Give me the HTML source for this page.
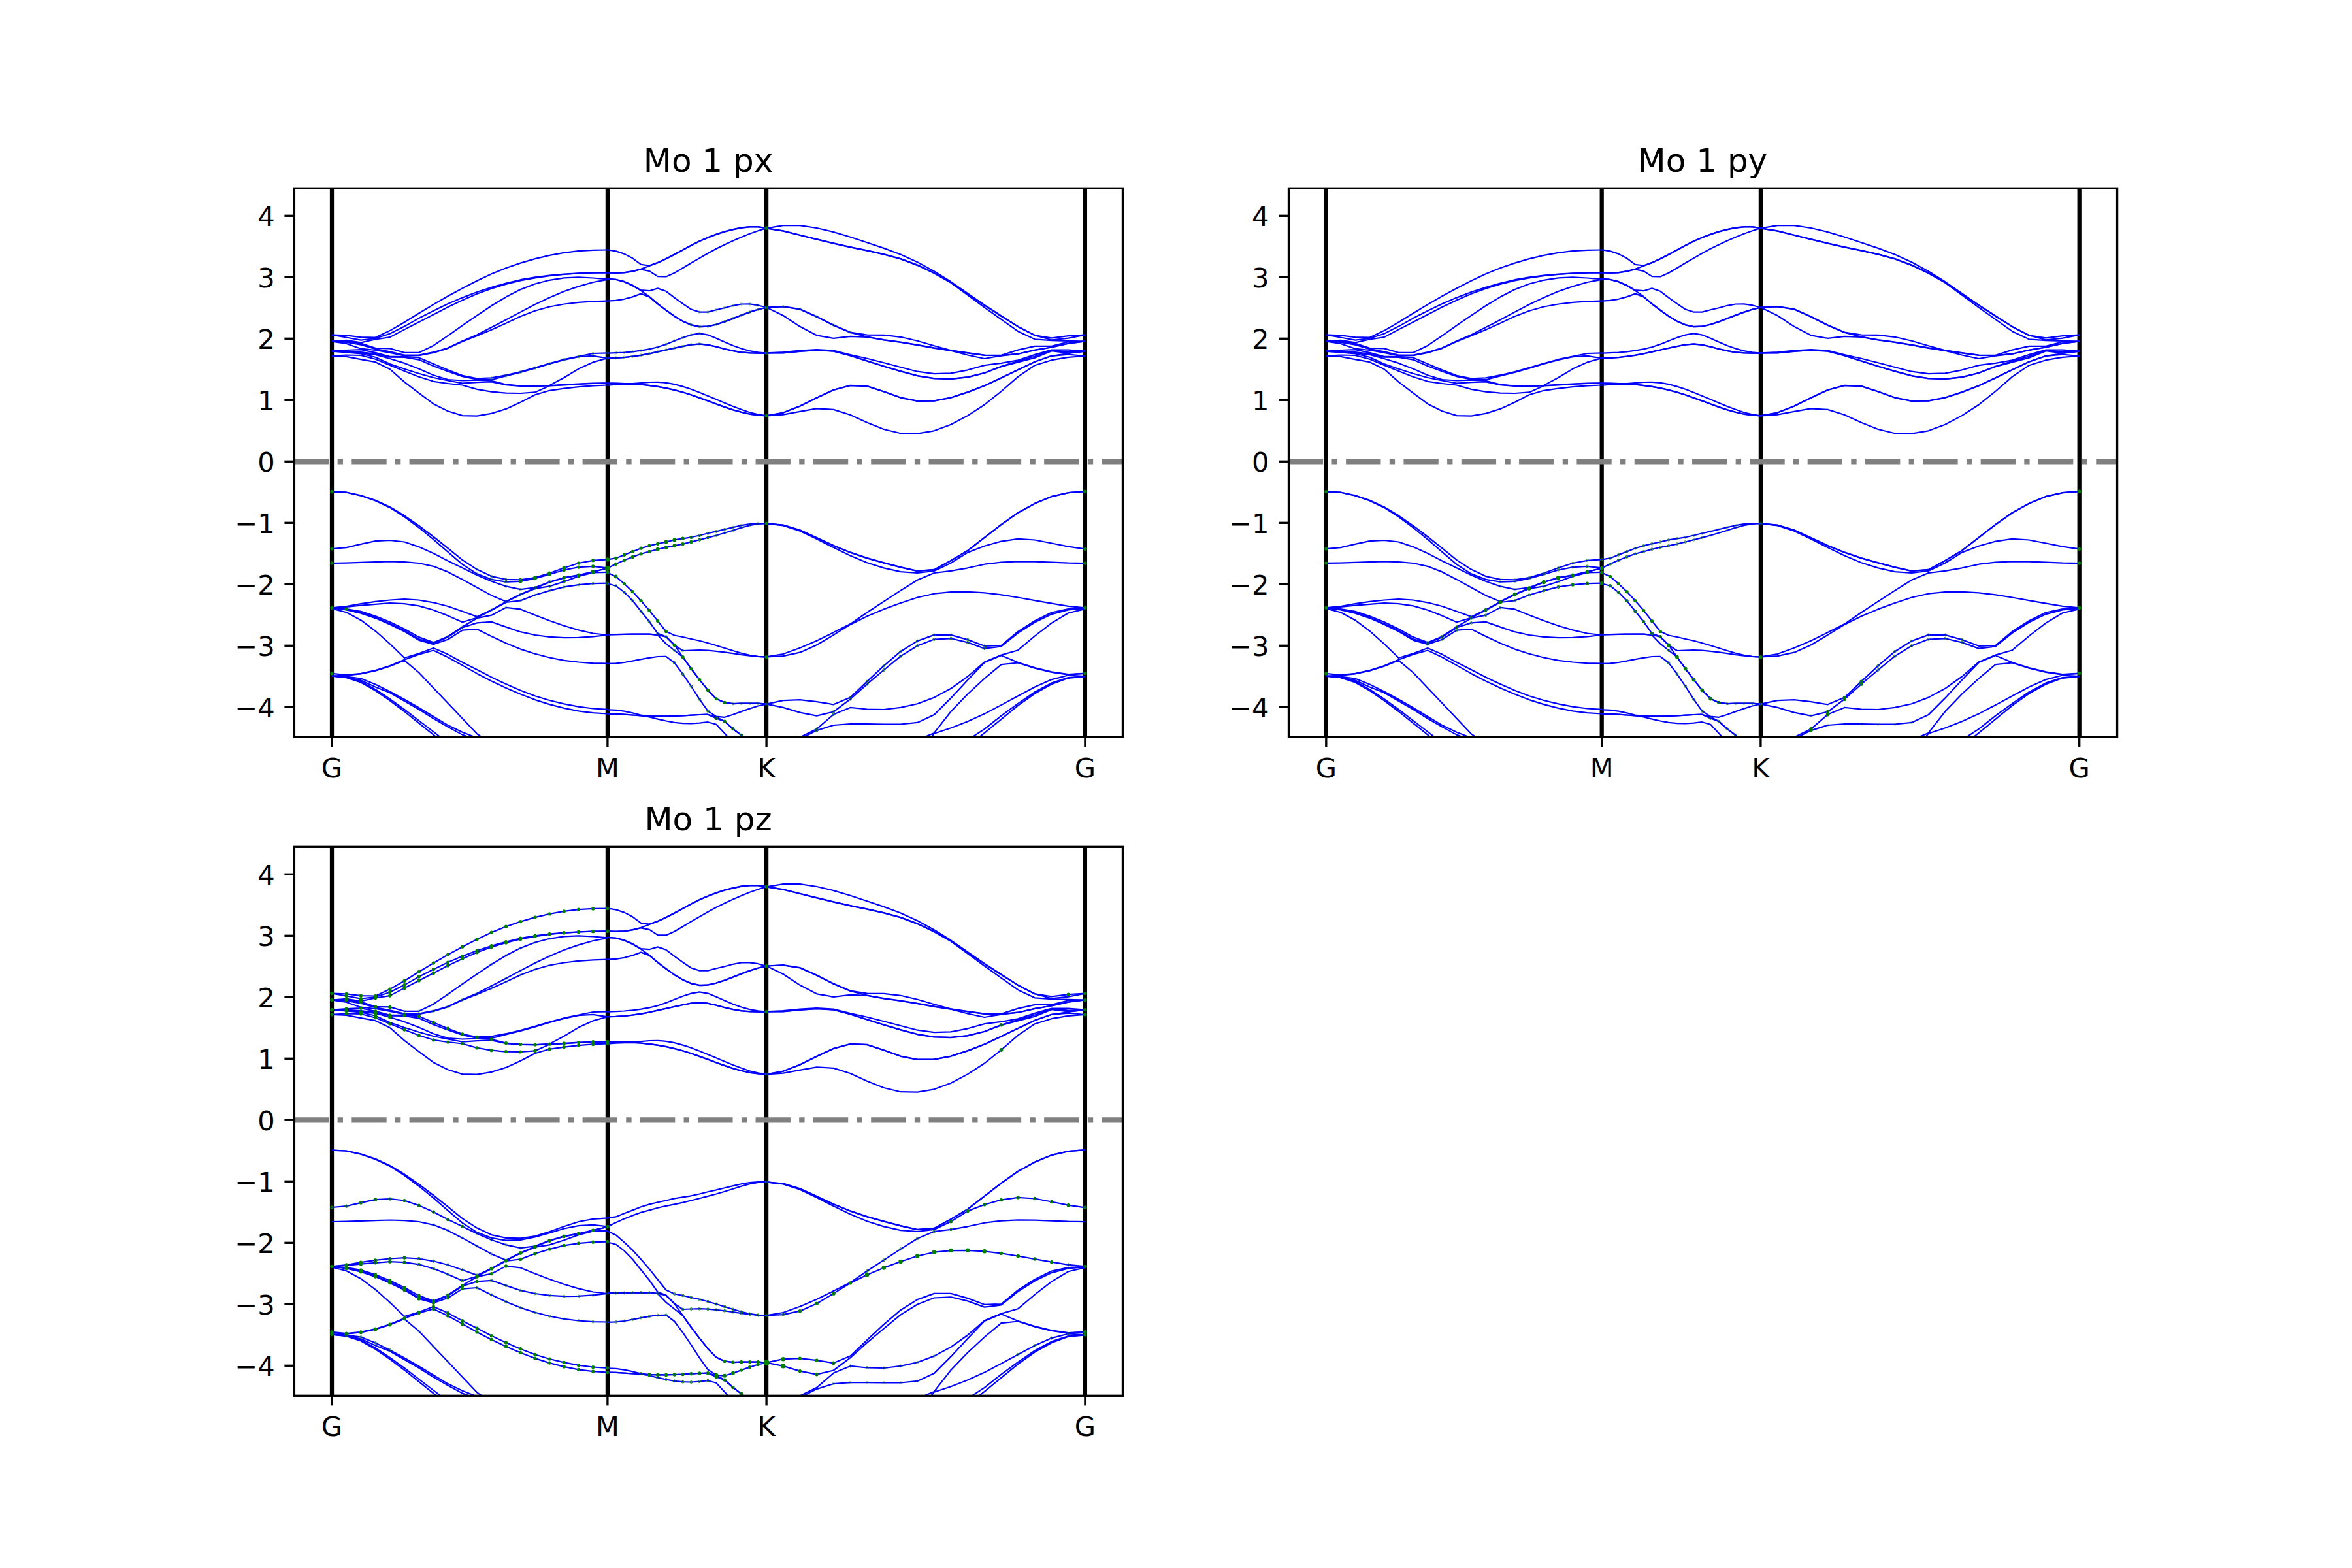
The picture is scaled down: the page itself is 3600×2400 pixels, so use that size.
<!DOCTYPE html>
<html><head><meta charset="utf-8"><title>bands</title>
<style>
html,body{margin:0;padding:0;background:#fff;}
svg{display:block;}
text{font-family:"DejaVu Sans","Liberation Sans",sans-serif;fill:#000;}
.tk{font-size:41.67px;}
.tt{font-size:50px;}
.f{fill:#008000;stroke:none;}
</style></head><body>
<svg width="3600" height="2400" viewBox="0 0 3600 2400">
<rect width="3600" height="2400" fill="#fff"/>
<clipPath id="cp"><rect x="450" y="288" width="1268.18" height="840.00"/></clipPath>
<g transform="translate(0.00,0.00)">
<line x1="508.0" y1="288" x2="508.0" y2="1128" stroke="#000" stroke-width="6.25"/>
<line x1="929.9" y1="288" x2="929.9" y2="1128" stroke="#000" stroke-width="6.25"/>
<line x1="1173.1" y1="288" x2="1173.1" y2="1128" stroke="#000" stroke-width="6.25"/>
<line x1="1660.9" y1="288" x2="1660.9" y2="1128" stroke="#000" stroke-width="6.25"/>
<line x1="450" y1="706.3" x2="1718.18" y2="706.3" stroke="#808080" stroke-width="8.33" stroke-dasharray="53.33 13.33 8.33 13.33"/>
<g clip-path="url(#cp)">
<g fill="none" stroke="#0000ff" stroke-width="2.2" stroke-linejoin="round" stroke-linecap="butt">
<polyline points="508.0,512.6 530.2,513.4 552.4,516.1 574.6,516.5 596.8,506.1 619.0,493.3 641.2,479.5 663.4,466.1 685.6,453.3 707.8,441.2 730.1,429.7 752.3,419.2 774.5,410.2 796.7,402.6 818.9,396.1 841.1,390.9 863.3,386.9 885.5,384.2 907.7,382.9 929.9,382.5"/>
<polyline points="508.0,512.6 530.2,516.5 552.4,520.7 574.6,518.0 596.8,510.7 619.0,499.6 641.2,487.1 663.4,475.7 685.6,465.1 707.8,455.6 730.1,447.0 752.3,439.7 774.5,433.6 796.7,428.2 818.9,424.4 841.1,421.5 863.3,419.6 885.5,418.3 907.7,417.5 929.9,417.3"/>
<polyline points="508.0,522.6 530.2,520.8 552.4,524.3 574.6,519.5 596.8,516.1 619.0,504.4 641.2,492.9 663.4,481.4 685.6,469.9 707.8,459.4 730.1,449.8 752.3,441.6 774.5,434.9 796.7,429.4 818.9,425.3 841.1,422.1 863.3,420.0 885.5,418.5 907.7,417.7 929.9,417.3"/>
<polyline points="508.0,522.6 530.2,522.5 552.4,525.6 574.6,532.9 596.8,533.4 619.0,539.8 641.2,539.8 663.4,528.9 685.6,513.9 707.8,498.2 730.1,482.9 752.3,468.0 774.5,454.6 796.7,443.1 818.9,434.5 841.1,428.8 863.3,425.3 885.5,424.4 907.7,425.5 929.9,427.3"/>
<polyline points="508.0,522.6 530.2,524.0 552.4,527.6 574.6,534.1 596.8,538.3 619.0,543.6 641.2,543.6 663.4,539.2 685.6,532.5 707.8,522.0 730.1,512.4 752.3,501.1 774.5,489.6 796.7,477.6 818.9,466.1 841.1,455.6 863.3,446.0 885.5,438.4 907.7,432.0 929.9,427.8"/>
<polyline points="508.0,522.6 530.2,526.0 552.4,533.7 574.6,536.0 596.8,539.8 619.0,544.4 641.2,544.2 663.4,539.9 685.6,533.1 707.8,522.7 730.1,513.9 752.3,504.7 774.5,494.8 796.7,484.3 818.9,475.7 841.1,469.5 863.3,465.5 885.5,462.8 907.7,461.3 929.9,460.7"/>
<polyline points="508.0,537.7 530.2,536.0 552.4,535.2 574.6,539.8 596.8,545.9 619.0,545.9 641.2,547.4 663.4,557.0 685.6,566.2 707.8,574.8 730.1,579.3 752.3,578.4 774.5,574.2 796.7,569.1 818.9,562.7 841.1,556.4 863.3,550.2 885.5,545.5 907.7,541.0 929.9,540.4"/>
<polyline points="508.0,537.7 530.2,537.5 552.4,539.0 574.6,541.7 596.8,546.7 619.0,546.8 641.2,550.6 663.4,560.2 685.6,568.5 707.8,576.1 730.1,580.6 752.3,581.2 774.5,575.5 796.7,570.0 818.9,563.6 841.1,557.0 863.3,550.9 885.5,546.1 907.7,544.9 929.9,548.3"/>
<polyline points="508.0,537.7 530.2,538.5 552.4,540.6 574.6,543.0 596.8,549.0 619.0,555.9 641.2,564.6 663.4,574.2 685.6,581.0 707.8,582.5 730.1,581.6 752.3,582.8 774.5,588.6 796.7,590.5 818.9,591.0 841.1,589.9 863.3,578.0 885.5,564.6 907.7,554.4 929.9,548.3"/>
<polyline points="508.0,537.7 530.2,539.4 552.4,541.5 574.6,546.7 596.8,557.0 619.0,564.7 641.2,571.7 663.4,578.0 685.6,582.5 707.8,586.6 730.1,585.1 752.3,584.4 774.5,589.1 796.7,590.9 818.9,591.3 841.1,590.2 863.3,588.9 885.5,587.6 907.7,586.6 929.9,586.3"/>
<polyline points="508.0,544.8 530.2,543.5 552.4,544.0 574.6,549.7 596.8,558.9 619.0,568.1 641.2,576.8 663.4,583.8 685.6,587.0 707.8,589.5 730.1,595.9 752.3,599.7 774.5,601.6 796.7,602.0 818.9,600.4 841.1,590.5 863.3,589.3 885.5,588.0 907.7,587.0 929.9,586.6"/>
<polyline points="508.0,544.8 530.2,545.8 552.4,550.1 574.6,554.2 596.8,565.0 619.0,584.6 641.2,601.6 663.4,618.2 685.6,629.3 707.8,636.1 730.1,636.7 752.3,632.9 774.5,625.9 796.7,615.7 818.9,604.2 841.1,597.8 863.3,594.6 885.5,592.1 907.7,590.4 929.9,589.5"/>
<polyline points="508.0,752.6 530.2,753.5 552.4,758.3 574.6,765.8 596.8,775.9 619.0,789.3 641.2,804.6 663.4,821.5 685.6,839.1 707.8,857.2 730.1,871.6 752.3,882.1 774.5,886.9 796.7,887.3 818.9,884.0 841.1,877.3 863.3,869.3 885.5,862.0 907.7,857.8 929.9,856.3"/>
<polyline points="508.0,752.6 530.2,753.7 552.4,758.7 574.6,766.4 596.8,776.9 619.0,791.2 641.2,807.5 663.4,825.7 685.6,844.8 707.8,863.9 730.1,878.3 752.3,886.9 774.5,890.7 796.7,889.8 818.9,885.4 841.1,879.2 863.3,872.5 885.5,868.1 907.7,866.8 929.9,869.3"/>
<polyline points="508.0,840.0 530.2,838.1 552.4,832.9 574.6,828.1 596.8,827.0 619.0,829.5 641.2,837.1 663.4,847.1 685.6,858.6 707.8,869.3 730.1,880.2 752.3,889.8 774.5,897.4 796.7,902.2 818.9,899.3 841.1,890.7 863.3,884.0 885.5,880.2 907.7,875.0 929.9,869.7"/>
<polyline points="508.0,862.0 530.2,861.6 552.4,860.9 574.6,860.1 596.8,859.5 619.0,860.1 641.2,862.0 663.4,866.8 685.6,875.4 707.8,886.9 730.1,899.3 752.3,911.4 774.5,920.8 796.7,909.5 818.9,900.3 841.1,891.3 863.3,884.6 885.5,880.6 907.7,875.4 929.9,869.7"/>
<polyline points="508.0,930.3 530.2,928.0 552.4,924.2 574.6,920.9 596.8,918.5 619.0,917.1 641.2,918.5 663.4,922.3 685.6,928.0 707.8,935.7 730.1,943.9 752.3,933.4 774.5,921.3 796.7,910.2 818.9,900.9 841.1,897.4 863.3,890.3 885.5,882.1 907.7,876.4 929.9,875.8"/>
<polyline points="508.0,930.3 530.2,929.0 552.4,926.7 574.6,924.8 596.8,923.2 619.0,924.2 641.2,927.4 663.4,933.8 685.6,942.4 707.8,952.3 730.1,945.5 752.3,934.0 774.5,922.0 796.7,919.4 818.9,910.8 841.1,904.1 863.3,898.4 885.5,895.1 907.7,893.2 929.9,892.6"/>
<polyline points="508.0,930.5 530.2,932.1 552.4,935.9 574.6,943.0 596.8,951.9 619.0,962.7 641.2,975.1 663.4,983.4 685.6,974.2 707.8,959.5 730.1,946.2 752.3,941.7 774.5,929.9 796.7,932.4 818.9,941.4 841.1,950.0 863.3,957.7 885.5,964.4 907.7,969.5 929.9,972.0"/>
<polyline points="508.0,930.5 530.2,933.0 552.4,937.9 574.6,944.9 596.8,954.4 619.0,965.3 641.2,978.0 663.4,984.8 685.6,975.2 707.8,960.5 730.1,953.4 752.3,951.9 774.5,959.6 796.7,967.2 818.9,972.0 841.1,974.9 863.3,976.2 885.5,975.9 907.7,974.3 929.9,972.0"/>
<polyline points="508.0,930.5 530.2,933.5 552.4,938.8 574.6,946.1 596.8,955.7 619.0,966.6 641.2,979.9 663.4,986.3 685.6,978.7 707.8,964.6 730.1,963.0 752.3,973.9 774.5,984.5 796.7,993.6 818.9,1000.7 841.1,1006.5 863.3,1010.9 885.5,1013.5 907.7,1015.1 929.9,1015.5"/>
<polyline points="508.0,931.5 530.2,937.2 552.4,949.2 574.6,965.8 596.8,985.5 619.0,1007.0 641.2,1000.3 663.4,992.0 685.6,1001.6 707.8,1013.7 730.1,1025.1 752.3,1036.6 774.5,1047.1 796.7,1056.7 818.9,1065.3 841.1,1072.0 863.3,1077.4 885.5,1081.6 907.7,1084.5 929.9,1085.8"/>
<polyline points="508.0,1030.9 530.2,1033.2 552.4,1030.9 574.6,1026.1 596.8,1019.0 619.0,1009.8 641.2,1001.6 663.4,995.5 685.6,1006.0 707.8,1018.4 730.1,1030.9 752.3,1042.4 774.5,1052.9 796.7,1062.4 818.9,1071.1 841.1,1078.1 863.3,1083.9 885.5,1088.3 907.7,1091.1 929.9,1092.5"/>
<polyline points="508.0,1034.7 530.2,1033.7 552.4,1031.5 574.6,1026.7 596.8,1019.8 619.0,1010.8 641.2,1029.5 663.4,1052.9 685.6,1076.2 707.8,1099.8 730.1,1123.3 752.3,1138.0 774.5,1146.6 796.7,1155.2 818.9,1163.9 841.1,1172.5 863.3,1181.1 885.5,1189.7 907.7,1198.3 929.9,1206.9"/>
<polyline points="508.0,1034.7 530.2,1035.7 552.4,1038.5 574.6,1047.5 596.8,1058.4 619.0,1070.5 641.2,1083.3 663.4,1096.7 685.6,1110.1 707.8,1120.8 730.1,1129.4 752.3,1141.8 774.5,1150.5 796.7,1159.1 818.9,1167.7 841.1,1176.3 863.3,1184.9 885.5,1193.5 907.7,1202.1 929.9,1210.7"/>
<polyline points="508.0,1034.7 530.2,1036.2 552.4,1041.2 574.6,1051.4 596.8,1060.3 619.0,1073.0 641.2,1085.8 663.4,1099.8 685.6,1112.6 707.8,1124.6 730.1,1133.2 752.3,1146.6 774.5,1169.6 796.7,1192.5 818.9,1215.5 841.1,1238.5 863.3,1261.4 885.5,1284.4 907.7,1307.3 929.9,1324.4"/>
<polyline points="508.0,1034.7 530.2,1036.6 552.4,1043.1 574.6,1055.2 596.8,1069.9 619.0,1085.8 641.2,1103.0 663.4,1120.0 685.6,1137.1 707.8,1154.1 730.1,1171.1 752.3,1188.1 774.5,1205.2 796.7,1222.2 818.9,1239.2 841.1,1256.3 863.3,1273.3 885.5,1290.3 907.7,1307.3 929.9,1330.3"/>
<polyline points="508.0,1034.7 530.2,1037.2 552.4,1044.5 574.6,1057.1 596.8,1072.4 619.0,1089.0 641.2,1106.8 663.4,1124.6 685.6,1142.8 707.8,1161.0 730.1,1179.2 752.3,1197.3 774.5,1215.5 796.7,1233.7 818.9,1251.9 841.1,1270.0 863.3,1288.2 885.5,1306.4 907.7,1324.6 929.9,1342.7"/>
<polyline points="929.9,382.4 942.7,384.4 955.5,388.6 968.3,395.3 981.1,404.8 993.9,406.5 1006.7,401.9 1019.5,395.9 1032.3,389.3 1045.1,382.4 1057.9,375.4 1070.7,368.9 1083.5,363.4 1096.3,358.5 1109.1,354.3 1121.9,351.1 1134.7,348.4 1147.5,347.1 1160.3,347.1 1173.1,349.1"/>
<polyline points="929.9,417.3 942.7,417.7 955.5,417.1 968.3,415.1 981.1,411.9 993.9,407.0 1006.7,402.3 1019.5,396.2 1032.3,389.7 1045.1,382.8 1057.9,375.8 1070.7,369.2 1083.5,363.7 1096.3,358.9 1109.1,354.6 1121.9,351.4 1134.7,348.8 1147.5,347.4 1160.3,347.3 1173.1,349.1"/>
<polyline points="929.9,417.3 942.7,417.9 955.5,417.3 968.3,415.4 981.1,412.3 993.9,414.8 1006.7,423.2 1019.5,423.4 1032.3,417.7 1045.1,410.2 1057.9,402.5 1070.7,395.1 1083.5,387.8 1096.3,380.7 1109.1,374.4 1121.9,368.5 1134.7,362.9 1147.5,357.7 1160.3,353.2 1173.1,349.1"/>
<polyline points="929.9,426.9 942.7,427.7 955.5,430.9 968.3,436.6 981.1,444.1 993.9,445.2 1006.7,441.4 1019.5,445.8 1032.3,455.7 1045.1,464.9 1057.9,473.5 1070.7,477.6 1083.5,477.6 1096.3,474.3 1109.1,471.2 1121.9,467.8 1134.7,465.5 1147.5,465.3 1160.3,467.2 1173.1,470.7"/>
<polyline points="929.9,426.9 942.7,428.0 955.5,431.4 968.3,437.2 981.1,444.9 993.9,454.0 1006.7,464.9 1019.5,474.7 1032.3,483.9 1045.1,491.6 1057.9,497.1 1070.7,499.9 1083.5,499.4 1096.3,496.5 1109.1,492.2 1121.9,487.3 1134.7,482.4 1147.5,477.6 1160.3,473.5 1173.1,470.7"/>
<polyline points="929.9,460.7 942.7,459.9 955.5,457.8 968.3,454.4 981.1,449.6 993.9,454.4 1006.7,465.3 1019.5,475.0 1032.3,484.2 1045.1,491.9 1057.9,497.4 1070.7,500.3 1083.5,499.7 1096.3,496.8 1109.1,492.6 1121.9,487.7 1134.7,482.7 1147.5,477.9 1160.3,473.8 1173.1,470.7"/>
<polyline points="929.9,540.7 942.7,540.1 955.5,539.5 968.3,538.4 981.1,536.7 993.9,534.4 1006.7,531.3 1019.5,526.9 1032.3,521.7 1045.1,516.8 1057.9,512.6 1070.7,510.3 1083.5,512.6 1096.3,517.7 1109.1,523.5 1121.9,529.0 1134.7,533.5 1147.5,537.1 1160.3,539.4 1173.1,540.7"/>
<polyline points="929.9,548.2 942.7,547.8 955.5,547.0 968.3,545.5 981.1,543.6 993.9,541.3 1006.7,538.4 1019.5,535.5 1032.3,532.7 1045.1,530.0 1057.9,527.5 1070.7,526.3 1083.5,527.7 1096.3,530.6 1109.1,534.0 1121.9,536.9 1134.7,539.1 1147.5,540.2 1160.3,540.7 1173.1,540.7"/>
<polyline points="929.9,548.2 942.7,547.9 955.5,547.1 968.3,545.7 981.1,543.8 993.9,541.5 1006.7,538.6 1019.5,535.8 1032.3,532.9 1045.1,530.2 1057.9,527.7 1070.7,526.6 1083.5,527.9 1096.3,530.8 1109.1,534.3 1121.9,537.1 1134.7,539.3 1147.5,540.3 1160.3,540.7 1173.1,540.7"/>
<polyline points="929.9,586.6 942.7,586.7 955.5,587.1 968.3,587.2 981.1,586.1 993.9,585.0 1006.7,584.9 1019.5,585.8 1032.3,588.1 1045.1,591.6 1057.9,595.8 1070.7,600.8 1083.5,605.9 1096.3,611.3 1109.1,616.8 1121.9,622.0 1134.7,626.8 1147.5,631.2 1160.3,634.4 1173.1,636.3"/>
<polyline points="929.9,586.6 942.7,586.9 955.5,587.2 968.3,587.6 981.1,588.5 993.9,589.8 1006.7,591.6 1019.5,593.9 1032.3,596.7 1045.1,600.2 1057.9,604.2 1070.7,608.8 1083.5,613.4 1096.3,618.3 1109.1,622.9 1121.9,627.2 1134.7,630.8 1147.5,633.7 1160.3,635.5 1173.1,636.3"/>
<polyline points="929.9,589.6 942.7,588.7 955.5,588.1 968.3,587.8 981.1,588.7 993.9,590.1 1006.7,591.9 1019.5,594.2 1032.3,597.1 1045.1,600.5 1057.9,604.5 1070.7,609.1 1083.5,613.7 1096.3,618.5 1109.1,623.1 1121.9,627.4 1134.7,630.9 1147.5,633.8 1160.3,635.5 1173.1,636.3"/>
<polyline points="929.9,856.4 942.7,854.4 955.5,849.3 968.3,844.4 981.1,839.2 993.9,835.4 1006.7,832.3 1019.5,829.5 1032.3,826.4 1045.1,824.3 1057.9,822.3 1070.7,819.5 1083.5,816.3 1096.3,813.4 1109.1,810.2 1121.9,807.1 1134.7,804.2 1147.5,802.2 1160.3,801.1 1173.1,801.1"/>
<polyline points="929.9,869.6 942.7,863.3 955.5,857.6 968.3,852.4 981.1,847.8 993.9,844.4 1006.7,840.7 1019.5,837.8 1032.3,835.4 1045.1,832.6 1057.9,829.5 1070.7,826.2 1083.5,822.9 1096.3,819.5 1109.1,815.7 1121.9,811.7 1134.7,807.6 1147.5,804.2 1160.3,801.9 1173.1,801.1"/>
<polyline points="929.9,876.6 942.7,882.4 955.5,893.5 968.3,905.6 981.1,919.5 993.9,934.4 1006.7,950.5 1019.5,966.5 1032.3,972.5 1045.1,975.0 1057.9,978.0 1070.7,980.8 1083.5,984.2 1096.3,988.0 1109.1,992.0 1121.9,996.0 1134.7,999.8 1147.5,1002.9 1160.3,1004.9 1173.1,1005.6"/>
<polyline points="929.9,893.3 942.7,896.7 955.5,906.5 968.3,919.5 981.1,935.5 993.9,951.5 1006.7,969.6 1019.5,974.6 1032.3,987.4 1045.1,996.0 1057.9,995.5 1070.7,995.2 1083.5,995.7 1096.3,996.8 1109.1,998.3 1121.9,1000.1 1134.7,1002.1 1147.5,1003.7 1160.3,1005.0 1173.1,1005.6"/>
<polyline points="929.9,971.4 942.7,971.1 955.5,970.9 968.3,970.7 981.1,970.5 993.9,970.7 1006.7,971.9 1019.5,974.6 1032.3,987.4 1045.1,1005.6 1057.9,1023.5 1070.7,1040.4 1083.5,1056.4 1096.3,1069.6 1109.1,1075.4 1121.9,1077.1 1134.7,1076.7 1147.5,1076.5 1160.3,1076.7 1173.1,1077.7"/>
<polyline points="929.9,971.4 942.7,971.1 955.5,970.9 968.3,970.7 981.1,970.5 993.9,970.7 1006.7,971.9 1019.5,985.4 1032.3,995.5 1045.1,1005.6 1057.9,1023.5 1070.7,1040.4 1083.5,1056.4 1096.3,1069.6 1109.1,1075.4 1121.9,1077.1 1134.7,1076.7 1147.5,1076.5 1160.3,1076.7 1173.1,1077.7"/>
<polyline points="929.9,1015.9 942.7,1015.4 955.5,1014.0 968.3,1011.7 981.1,1009.1 993.9,1006.8 1006.7,1005.0 1019.5,1004.8 1032.3,1014.5 1045.1,1031.7 1057.9,1050.5 1070.7,1070.4 1083.5,1088.3 1096.3,1096.6 1109.1,1097.8 1121.9,1093.7 1134.7,1089.1 1147.5,1084.6 1160.3,1080.5 1173.1,1077.7"/>
<polyline points="929.9,1086.3 942.7,1086.9 955.5,1088.6 968.3,1091.4 981.1,1094.5 993.9,1096.0 1006.7,1096.4 1019.5,1096.4 1032.3,1096.0 1045.1,1095.5 1057.9,1094.7 1070.7,1094.0 1083.5,1093.7 1096.3,1097.2 1109.1,1104.1 1121.9,1115.6 1134.7,1125.3 1147.5,1135.6 1160.3,1146.0 1173.1,1156.3"/>
<polyline points="929.9,1092.6 942.7,1092.9 955.5,1093.7 968.3,1094.5 981.1,1095.5 993.9,1096.0 1006.7,1096.4 1019.5,1096.4 1032.3,1096.0 1045.1,1095.5 1057.9,1094.7 1070.7,1094.0 1083.5,1093.7 1096.3,1099.5 1109.1,1104.1 1121.9,1115.6 1134.7,1125.3 1147.5,1135.6 1160.3,1146.0 1173.1,1156.3"/>
<polyline points="929.9,1092.6 942.7,1092.9 955.5,1093.7 968.3,1094.5 981.1,1095.5 993.9,1097.5 1006.7,1100.6 1019.5,1103.5 1032.3,1105.8 1045.1,1107.2 1057.9,1107.5 1070.7,1106.7 1083.5,1105.2 1096.3,1108.7 1109.1,1122.4 1121.9,1136.8 1134.7,1150.6 1147.5,1164.3 1160.3,1178.1 1173.1,1191.9"/>
<polyline points="1173.1,349.3 1198.8,345.2 1224.4,345.2 1250.1,349.0 1275.8,355.1 1301.5,362.8 1327.1,371.2 1352.8,379.9 1378.5,389.5 1404.2,401.3 1429.8,415.1 1455.5,431.3 1481.2,449.2 1506.9,466.8 1532.5,483.4 1558.2,499.9 1583.9,513.3 1609.6,517.4 1635.2,514.2 1660.9,512.6"/>
<polyline points="1173.1,349.3 1198.8,353.3 1224.4,359.7 1250.1,366.1 1275.8,372.2 1301.5,378.1 1327.1,383.4 1352.8,389.1 1378.5,396.0 1404.2,405.6 1429.8,417.6 1455.5,432.1 1481.2,449.7 1506.9,467.3 1532.5,484.0 1558.2,499.9 1583.9,513.3 1609.6,520.3 1635.2,517.7 1660.9,512.6"/>
<polyline points="1173.1,349.3 1198.8,353.6 1224.4,360.0 1250.1,366.4 1275.8,372.6 1301.5,378.4 1327.1,383.7 1352.8,389.4 1378.5,396.4 1404.2,406.1 1429.8,418.2 1455.5,432.9 1481.2,451.5 1506.9,470.7 1532.5,488.8 1558.2,507.2 1583.9,519.3 1609.6,521.1 1635.2,521.9 1660.9,522.5"/>
<polyline points="1173.1,470.5 1198.8,469.2 1224.4,473.1 1250.1,484.5 1275.8,497.6 1301.5,508.6 1327.1,512.6 1352.8,512.9 1378.5,515.8 1404.2,521.7 1429.8,529.2 1455.5,536.3 1481.2,540.1 1506.9,543.6 1532.5,543.9 1558.2,535.6 1583.9,529.9 1609.6,529.9 1635.2,523.2 1660.9,522.5"/>
<polyline points="1173.1,470.5 1198.8,469.5 1224.4,473.5 1250.1,485.0 1275.8,498.0 1301.5,509.0 1327.1,515.5 1352.8,520.2 1378.5,523.7 1404.2,527.9 1429.8,532.4 1455.5,536.6 1481.2,540.4 1506.9,543.9 1532.5,544.2 1558.2,541.7 1583.9,535.9 1609.6,531.5 1635.2,525.7 1660.9,522.5"/>
<polyline points="1173.1,470.5 1198.8,483.0 1224.4,499.8 1250.1,513.3 1275.8,517.8 1301.5,514.8 1327.1,515.9 1352.8,520.5 1378.5,524.0 1404.2,528.2 1429.8,532.8 1455.5,536.6 1481.2,543.5 1506.9,549.0 1532.5,544.6 1558.2,541.7 1583.9,535.9 1609.6,531.5 1635.2,525.7 1660.9,522.5"/>
<polyline points="1173.1,540.4 1198.8,539.2 1224.4,536.6 1250.1,535.1 1275.8,536.6 1301.5,543.0 1327.1,548.8 1352.8,555.3 1378.5,562.0 1404.2,568.7 1429.8,572.2 1455.5,571.3 1481.2,566.3 1506.9,559.1 1532.5,555.8 1558.2,551.3 1583.9,542.9 1609.6,535.6 1635.2,535.6 1660.9,537.7"/>
<polyline points="1173.1,540.4 1198.8,540.1 1224.4,537.7 1250.1,535.8 1275.8,537.3 1301.5,544.2 1327.1,552.3 1352.8,560.5 1378.5,568.1 1404.2,575.0 1429.8,579.0 1455.5,579.9 1481.2,577.1 1506.9,570.7 1532.5,560.7 1558.2,552.9 1583.9,545.5 1609.6,536.2 1635.2,538.5 1660.9,537.7"/>
<polyline points="1173.1,540.4 1198.8,540.3 1224.4,538.0 1250.1,536.1 1275.8,537.7 1301.5,544.5 1327.1,552.7 1352.8,560.8 1378.5,568.4 1404.2,575.3 1429.8,579.3 1455.5,580.2 1481.2,577.4 1506.9,571.0 1532.5,561.2 1558.2,554.4 1583.9,547.7 1609.6,537.2 1635.2,540.4 1660.9,537.7"/>
<polyline points="1173.1,636.4 1198.8,631.6 1224.4,621.5 1250.1,608.7 1275.8,596.7 1301.5,589.8 1327.1,590.9 1352.8,599.2 1378.5,608.5 1404.2,613.6 1429.8,613.4 1455.5,608.5 1481.2,600.1 1506.9,590.2 1532.5,578.3 1558.2,565.9 1583.9,553.8 1609.6,544.8 1635.2,541.0 1660.9,537.7"/>
<polyline points="1173.1,636.4 1198.8,631.8 1224.4,621.8 1250.1,609.0 1275.8,597.0 1301.5,590.2 1327.1,591.2 1352.8,599.5 1378.5,608.8 1404.2,613.9 1429.8,613.7 1455.5,608.8 1481.2,600.4 1506.9,590.5 1532.5,578.6 1558.2,565.9 1583.9,553.8 1609.6,544.8 1635.2,542.6 1660.9,545.0"/>
<polyline points="1173.1,636.4 1198.8,634.7 1224.4,629.9 1250.1,625.4 1275.8,626.9 1301.5,635.0 1327.1,646.8 1352.8,657.0 1378.5,663.2 1404.2,663.6 1429.8,659.3 1455.5,649.8 1481.2,636.1 1506.9,619.5 1532.5,599.0 1558.2,576.7 1583.9,559.2 1609.6,551.2 1635.2,546.8 1660.9,545.0"/>
<polyline points="1173.1,801.3 1198.8,803.6 1224.4,811.3 1250.1,822.9 1275.8,835.0 1301.5,845.4 1327.1,854.1 1352.8,861.3 1378.5,868.1 1404.2,873.9 1429.8,871.9 1455.5,857.9 1481.2,842.6 1506.9,822.7 1532.5,802.8 1558.2,784.7 1583.9,770.6 1609.6,759.9 1635.2,754.1 1660.9,752.2"/>
<polyline points="1173.1,801.3 1198.8,803.8 1224.4,811.6 1250.1,823.2 1275.8,835.3 1301.5,845.7 1327.1,854.4 1352.8,861.6 1378.5,868.4 1404.2,874.2 1429.8,872.2 1455.5,858.2 1481.2,842.9 1506.9,823.0 1532.5,803.1 1558.2,785.0 1583.9,770.8 1609.6,760.1 1635.2,754.2 1660.9,752.2"/>
<polyline points="1173.1,801.3 1198.8,804.4 1224.4,812.8 1250.1,825.1 1275.8,838.1 1301.5,850.5 1327.1,861.2 1352.8,869.4 1378.5,875.1 1404.2,877.0 1429.8,873.9 1455.5,861.7 1481.2,845.6 1506.9,835.7 1532.5,828.6 1558.2,824.9 1583.9,826.5 1609.6,831.5 1635.2,836.7 1660.9,840.3"/>
<polyline points="1173.1,1005.3 1198.8,1001.0 1224.4,991.8 1250.1,980.8 1275.8,968.1 1301.5,955.1 1327.1,937.5 1352.8,920.7 1378.5,903.8 1404.2,887.7 1429.8,877.0 1455.5,873.9 1481.2,869.3 1506.9,863.7 1532.5,860.6 1558.2,859.4 1583.9,859.7 1609.6,860.6 1635.2,861.7 1660.9,862.1"/>
<polyline points="1173.1,1005.3 1198.8,1004.1 1224.4,998.7 1250.1,987.2 1275.8,971.9 1301.5,955.9 1327.1,943.2 1352.8,932.4 1378.5,923.0 1404.2,914.5 1429.8,908.7 1455.5,906.1 1481.2,905.8 1506.9,907.3 1532.5,910.4 1558.2,914.5 1583.9,919.1 1609.6,923.7 1635.2,927.9 1660.9,930.3"/>
<polyline points="1173.1,1077.6 1198.8,1072.2 1224.4,1071.1 1250.1,1074.2 1275.8,1078.3 1301.5,1067.6 1327.1,1043.1 1352.8,1019.1 1378.5,997.2 1404.2,981.1 1429.8,971.9 1455.5,971.9 1481.2,979.1 1506.9,988.8 1532.5,988.0 1558.2,966.6 1583.9,950.2 1609.6,937.5 1635.2,932.1 1660.9,930.6"/>
<polyline points="1173.1,1077.6 1198.8,1082.9 1224.4,1090.6 1250.1,1095.6 1275.8,1089.5 1301.5,1070.2 1327.1,1047.2 1352.8,1025.5 1378.5,1004.4 1404.2,988.5 1429.8,978.5 1455.5,977.3 1481.2,983.4 1506.9,992.6 1532.5,989.5 1558.2,968.9 1583.9,952.5 1609.6,940.1 1635.2,933.4 1660.9,931.1"/>
<polyline points="1173.1,1171.4 1198.8,1150.0 1224.4,1128.5 1250.1,1115.8 1275.8,1093.6 1301.5,1082.9 1327.1,1085.5 1352.8,1086.0 1378.5,1082.9 1404.2,1077.2 1429.8,1067.6 1455.5,1053.8 1481.2,1035.5 1506.9,1013.3 1532.5,1002.6 1558.2,995.2 1583.9,973.5 1609.6,953.6 1635.2,938.3 1660.9,932.1"/>
<polyline points="1173.1,1177.2 1198.8,1154.1 1224.4,1131.0 1250.1,1118.1 1275.8,1110.0 1301.5,1108.2 1327.1,1108.2 1352.8,1108.5 1378.5,1108.5 1404.2,1105.9 1429.8,1094.1 1455.5,1068.4 1481.2,1040.8 1506.9,1014.0 1532.5,1003.3 1558.2,1014.0 1583.9,1022.1 1609.6,1028.3 1635.2,1032.1 1660.9,1030.6"/>
<polyline points="1173.1,1189.3 1198.8,1183.2 1224.4,1177.0 1250.1,1170.9 1275.8,1164.8 1301.5,1158.7 1327.1,1152.6 1352.8,1146.4 1378.5,1140.3 1404.2,1132.7 1429.8,1121.9 1455.5,1089.0 1481.2,1062.2 1506.9,1038.5 1532.5,1017.1 1558.2,1014.5 1583.9,1022.8 1609.6,1028.9 1635.2,1032.6 1660.9,1030.9"/>
<polyline points="1173.1,1438.8 1198.8,1412.8 1224.4,1386.7 1250.1,1360.7 1275.8,1334.7 1301.5,1305.6 1327.1,1267.3 1352.8,1229.1 1378.5,1190.8 1404.2,1155.6 1429.8,1122.7 1455.5,1114.3 1481.2,1104.3 1506.9,1092.6 1532.5,1079.1 1558.2,1065.3 1583.9,1051.5 1609.6,1040.1 1635.2,1033.5 1660.9,1035.0"/>
<polyline points="1173.1,1449.5 1198.8,1423.5 1224.4,1397.5 1250.1,1371.4 1275.8,1343.9 1301.5,1308.7 1327.1,1282.7 1352.8,1256.6 1378.5,1230.6 1404.2,1204.6 1429.8,1178.6 1455.5,1155.6 1481.2,1132.7 1506.9,1115.8 1532.5,1095.6 1558.2,1076.8 1583.9,1059.2 1609.6,1045.4 1635.2,1037.0 1660.9,1035.0"/>
<polyline points="1173.1,1496.9 1198.8,1458.7 1224.4,1420.4 1250.1,1382.1 1275.8,1345.4 1301.5,1319.4 1327.1,1293.4 1352.8,1267.3 1378.5,1241.3 1404.2,1215.3 1429.8,1189.3 1455.5,1164.8 1481.2,1141.8 1506.9,1121.9 1532.5,1100.8 1558.2,1079.8 1583.9,1061.5 1609.6,1047.2 1635.2,1037.8 1660.9,1035.3"/>
</g>
<g fill="none" stroke="#008000">
<circle cx="508.0" cy="752.6" r="2.6" class="f"/>
<circle cx="508.0" cy="840.0" r="2.6" class="f"/>
<circle cx="508.0" cy="862.0" r="2.6" class="f"/>
<circle cx="508.0" cy="930.3" r="2.6" class="f"/>
<circle cx="508.0" cy="1030.9" r="2.6" class="f"/>
<circle cx="1660.9" cy="752.2" r="2.6" class="f"/>
<circle cx="1660.9" cy="840.3" r="2.6" class="f"/>
<circle cx="1660.9" cy="862.1" r="2.6" class="f"/>
<circle cx="1660.9" cy="930.3" r="2.6" class="f"/>
<circle cx="1660.9" cy="1030.6" r="2.6" class="f"/>
<circle cx="530.2" cy="932.1" r="2.6" class="f"/>
<circle cx="730.1" cy="871.6" r="1.9" stroke-width="0.30"/>
<circle cx="752.3" cy="882.1" r="1.9" stroke-width="0.56"/>
<circle cx="774.5" cy="886.9" r="1.9" stroke-width="0.81"/>
<circle cx="796.7" cy="887.3" r="1.9" stroke-width="1.07"/>
<circle cx="818.9" cy="884.0" r="1.75" stroke-width="1.82"/>
<circle cx="841.1" cy="877.3" r="1.75" stroke-width="2.08"/>
<circle cx="863.3" cy="869.3" r="1.75" stroke-width="2.33"/>
<circle cx="885.5" cy="862.0" r="2.6" class="f"/>
<circle cx="907.7" cy="857.8" r="2.6" class="f"/>
<circle cx="929.9" cy="856.3" r="2.6" class="f"/>
<circle cx="730.1" cy="878.3" r="1.9" stroke-width="0.30"/>
<circle cx="752.3" cy="886.9" r="1.9" stroke-width="0.60"/>
<circle cx="774.5" cy="890.7" r="1.9" stroke-width="0.90"/>
<circle cx="796.7" cy="889.8" r="1.75" stroke-width="1.70"/>
<circle cx="818.9" cy="885.4" r="1.75" stroke-width="2.00"/>
<circle cx="841.1" cy="879.2" r="1.75" stroke-width="2.30"/>
<circle cx="863.3" cy="872.5" r="2.6" class="f"/>
<circle cx="885.5" cy="868.1" r="2.6" class="f"/>
<circle cx="907.7" cy="866.8" r="2.6" class="f"/>
<circle cx="929.9" cy="869.3" r="3.25" class="f"/>
<circle cx="774.5" cy="897.4" r="1.9" stroke-width="0.40"/>
<circle cx="796.7" cy="902.2" r="1.9" stroke-width="0.57"/>
<circle cx="818.9" cy="899.3" r="1.9" stroke-width="0.74"/>
<circle cx="841.1" cy="897.4" r="1.9" stroke-width="0.91"/>
<circle cx="863.3" cy="890.3" r="1.9" stroke-width="1.09"/>
<circle cx="885.5" cy="882.1" r="1.75" stroke-width="1.76"/>
<circle cx="907.7" cy="876.4" r="1.75" stroke-width="1.93"/>
<circle cx="929.9" cy="875.8" r="1.75" stroke-width="2.10"/>
<circle cx="774.5" cy="921.3" r="1.9" stroke-width="0.40"/>
<circle cx="796.7" cy="909.5" r="1.9" stroke-width="0.63"/>
<circle cx="818.9" cy="900.3" r="1.9" stroke-width="0.86"/>
<circle cx="841.1" cy="890.7" r="1.9" stroke-width="1.09"/>
<circle cx="863.3" cy="884.0" r="1.75" stroke-width="1.81"/>
<circle cx="885.5" cy="880.2" r="1.75" stroke-width="2.04"/>
<circle cx="907.7" cy="875.0" r="1.75" stroke-width="2.27"/>
<circle cx="929.9" cy="869.7" r="2.6" class="f"/>
<circle cx="774.5" cy="929.9" r="1.9" stroke-width="0.30"/>
<circle cx="796.7" cy="919.4" r="1.9" stroke-width="0.36"/>
<circle cx="818.9" cy="910.8" r="1.9" stroke-width="0.41"/>
<circle cx="841.1" cy="904.1" r="1.9" stroke-width="0.47"/>
<circle cx="863.3" cy="898.4" r="1.9" stroke-width="0.53"/>
<circle cx="885.5" cy="895.1" r="1.9" stroke-width="0.59"/>
<circle cx="907.7" cy="893.2" r="1.9" stroke-width="0.64"/>
<circle cx="929.9" cy="892.6" r="1.9" stroke-width="0.70"/>
<circle cx="663.4" cy="983.4" r="1.9" stroke-width="0.30"/>
<circle cx="685.6" cy="974.2" r="1.9" stroke-width="0.30"/>
<circle cx="707.8" cy="959.5" r="1.9" stroke-width="0.30"/>
<circle cx="730.1" cy="945.5" r="1.9" stroke-width="0.30"/>
<circle cx="752.3" cy="933.4" r="1.9" stroke-width="0.30"/>
<circle cx="752.3" cy="578.4" r="1.9" stroke-width="0.30"/>
<circle cx="774.5" cy="574.2" r="1.9" stroke-width="0.31"/>
<circle cx="796.7" cy="569.1" r="1.9" stroke-width="0.33"/>
<circle cx="818.9" cy="562.7" r="1.9" stroke-width="0.34"/>
<circle cx="841.1" cy="556.4" r="1.9" stroke-width="0.35"/>
<circle cx="863.3" cy="550.2" r="1.9" stroke-width="0.36"/>
<circle cx="885.5" cy="545.5" r="1.9" stroke-width="0.38"/>
<circle cx="907.7" cy="541.0" r="1.9" stroke-width="0.39"/>
<circle cx="929.9" cy="540.4" r="1.9" stroke-width="0.40"/>
<circle cx="752.3" cy="581.2" r="1.9" stroke-width="0.30"/>
<circle cx="774.5" cy="575.5" r="1.9" stroke-width="0.33"/>
<circle cx="796.7" cy="570.0" r="1.9" stroke-width="0.35"/>
<circle cx="818.9" cy="563.6" r="1.9" stroke-width="0.38"/>
<circle cx="841.1" cy="557.0" r="1.9" stroke-width="0.40"/>
<circle cx="863.3" cy="550.9" r="1.9" stroke-width="0.42"/>
<circle cx="885.5" cy="546.1" r="1.9" stroke-width="0.45"/>
<circle cx="907.7" cy="544.9" r="1.9" stroke-width="0.47"/>
<circle cx="929.9" cy="548.3" r="1.9" stroke-width="0.50"/>
<circle cx="929.9" cy="856.4" r="3.25" class="f"/>
<circle cx="942.7" cy="854.4" r="2.6" class="f"/>
<circle cx="955.5" cy="849.3" r="2.6" class="f"/>
<circle cx="968.3" cy="844.4" r="2.6" class="f"/>
<circle cx="981.1" cy="839.2" r="2.6" class="f"/>
<circle cx="993.9" cy="835.4" r="2.6" class="f"/>
<circle cx="1006.7" cy="832.3" r="2.6" class="f"/>
<circle cx="1019.5" cy="829.5" r="1.75" stroke-width="2.33"/>
<circle cx="1032.3" cy="826.4" r="1.75" stroke-width="2.17"/>
<circle cx="1045.1" cy="824.3" r="1.75" stroke-width="2.00"/>
<circle cx="1057.9" cy="822.3" r="1.75" stroke-width="1.83"/>
<circle cx="1070.7" cy="819.5" r="1.9" stroke-width="1.17"/>
<circle cx="1083.5" cy="816.3" r="1.9" stroke-width="1.00"/>
<circle cx="1096.3" cy="813.4" r="1.9" stroke-width="0.80"/>
<circle cx="1109.1" cy="810.2" r="1.9" stroke-width="0.70"/>
<circle cx="1121.9" cy="807.1" r="1.9" stroke-width="0.60"/>
<circle cx="1134.7" cy="804.2" r="1.9" stroke-width="0.50"/>
<circle cx="1147.5" cy="802.2" r="1.9" stroke-width="0.40"/>
<circle cx="1160.3" cy="801.1" r="1.9" stroke-width="0.30"/>
<circle cx="929.9" cy="869.6" r="3.95" class="f"/>
<circle cx="942.7" cy="863.3" r="2.6" class="f"/>
<circle cx="955.5" cy="857.6" r="2.6" class="f"/>
<circle cx="968.3" cy="852.4" r="2.6" class="f"/>
<circle cx="981.1" cy="847.8" r="2.6" class="f"/>
<circle cx="993.9" cy="844.4" r="2.6" class="f"/>
<circle cx="1006.7" cy="840.7" r="1.75" stroke-width="2.37"/>
<circle cx="1019.5" cy="837.8" r="1.75" stroke-width="2.23"/>
<circle cx="1032.3" cy="835.4" r="1.75" stroke-width="2.08"/>
<circle cx="1045.1" cy="832.6" r="1.75" stroke-width="1.94"/>
<circle cx="1057.9" cy="829.5" r="1.75" stroke-width="1.79"/>
<circle cx="1070.7" cy="826.2" r="1.9" stroke-width="1.15"/>
<circle cx="1083.5" cy="822.9" r="1.9" stroke-width="1.00"/>
<circle cx="1096.3" cy="819.5" r="1.9" stroke-width="0.80"/>
<circle cx="1109.1" cy="815.7" r="1.9" stroke-width="0.70"/>
<circle cx="1121.9" cy="811.7" r="1.9" stroke-width="0.60"/>
<circle cx="1134.7" cy="807.6" r="1.9" stroke-width="0.50"/>
<circle cx="1147.5" cy="804.2" r="1.9" stroke-width="0.40"/>
<circle cx="1160.3" cy="801.9" r="1.9" stroke-width="0.30"/>
<circle cx="929.9" cy="876.6" r="1.9" stroke-width="1.00"/>
<circle cx="942.7" cy="882.4" r="1.75" stroke-width="2.10"/>
<circle cx="955.5" cy="893.5" r="2.6" class="f"/>
<circle cx="968.3" cy="905.6" r="2.6" class="f"/>
<circle cx="981.1" cy="919.5" r="2.6" class="f"/>
<circle cx="993.9" cy="934.4" r="2.6" class="f"/>
<circle cx="1006.7" cy="950.5" r="2.6" class="f"/>
<circle cx="1019.5" cy="966.5" r="2.6" class="f"/>
<circle cx="1032.3" cy="987.4" r="2.6" class="f"/>
<circle cx="1045.1" cy="1005.6" r="2.6" class="f"/>
<circle cx="1057.9" cy="1023.5" r="2.6" class="f"/>
<circle cx="1070.7" cy="1040.4" r="2.6" class="f"/>
<circle cx="1083.5" cy="1056.4" r="2.6" class="f"/>
<circle cx="1096.3" cy="1069.6" r="2.6" class="f"/>
<circle cx="1109.1" cy="1075.4" r="2.6" class="f"/>
<circle cx="1121.9" cy="1077.1" r="1.9" stroke-width="0.50"/>
<circle cx="1134.7" cy="1076.7" r="1.9" stroke-width="0.50"/>
<circle cx="1147.5" cy="1076.5" r="1.9" stroke-width="0.50"/>
<circle cx="1160.3" cy="1076.7" r="1.9" stroke-width="0.50"/>
<circle cx="929.9" cy="893.3" r="1.9" stroke-width="0.80"/>
<circle cx="942.7" cy="896.7" r="1.9" stroke-width="0.80"/>
<circle cx="955.5" cy="906.5" r="1.9" stroke-width="0.80"/>
<circle cx="968.3" cy="919.5" r="1.9" stroke-width="0.80"/>
<circle cx="981.1" cy="935.5" r="1.9" stroke-width="0.80"/>
<circle cx="993.9" cy="951.5" r="1.9" stroke-width="0.80"/>
<circle cx="1006.7" cy="969.6" r="1.9" stroke-width="0.80"/>
<circle cx="1019.5" cy="974.6" r="1.9" stroke-width="0.80"/>
<circle cx="1032.3" cy="995.5" r="1.9" stroke-width="0.80"/>
<circle cx="1032.3" cy="1014.5" r="1.9" stroke-width="1.00"/>
<circle cx="1045.1" cy="1031.7" r="1.9" stroke-width="1.00"/>
<circle cx="1057.9" cy="1050.5" r="1.9" stroke-width="1.00"/>
<circle cx="1070.7" cy="1070.4" r="1.9" stroke-width="1.00"/>
<circle cx="1083.5" cy="1088.3" r="1.9" stroke-width="1.00"/>
<circle cx="1096.3" cy="1099.5" r="1.75" stroke-width="1.70"/>
<circle cx="1109.1" cy="1104.1" r="1.75" stroke-width="1.70"/>
<circle cx="1121.9" cy="1115.6" r="1.75" stroke-width="1.70"/>
<circle cx="1134.7" cy="1125.3" r="1.75" stroke-width="1.70"/>
<circle cx="1032.3" cy="987.4" r="1.9" stroke-width="0.40"/>
<circle cx="1045.1" cy="996.0" r="1.9" stroke-width="0.40"/>
<circle cx="1173.1" cy="349.1" r="1.75" stroke-width="2.10"/>
<circle cx="1173.1" cy="470.7" r="1.75" stroke-width="1.70"/>
<circle cx="1173.1" cy="540.7" r="1.9" stroke-width="1.00"/>
<circle cx="1173.1" cy="636.3" r="2.6" class="f"/>
<circle cx="1173.1" cy="801.1" r="2.6" class="f"/>
<circle cx="1173.1" cy="1005.6" r="2.6" class="f"/>
<circle cx="1173.1" cy="1077.7" r="1.9" stroke-width="0.80"/>
<circle cx="1070.7" cy="477.6" r="1.9" stroke-width="0.40"/>
<circle cx="1083.5" cy="477.6" r="1.9" stroke-width="0.40"/>
<circle cx="1096.3" cy="474.3" r="1.9" stroke-width="0.40"/>
<circle cx="1109.1" cy="471.2" r="1.9" stroke-width="0.40"/>
<circle cx="1121.9" cy="467.8" r="1.9" stroke-width="0.40"/>
<circle cx="1134.7" cy="465.5" r="1.9" stroke-width="0.40"/>
<circle cx="1147.5" cy="465.3" r="1.9" stroke-width="0.40"/>
<circle cx="1160.3" cy="467.2" r="1.9" stroke-width="0.40"/>
<circle cx="1057.9" cy="497.1" r="1.9" stroke-width="0.60"/>
<circle cx="1070.7" cy="499.9" r="1.9" stroke-width="0.60"/>
<circle cx="1083.5" cy="499.4" r="1.9" stroke-width="0.60"/>
<circle cx="1096.3" cy="496.5" r="1.9" stroke-width="0.60"/>
<circle cx="1109.1" cy="492.2" r="1.9" stroke-width="0.60"/>
<circle cx="1121.9" cy="487.3" r="1.9" stroke-width="0.60"/>
<circle cx="1134.7" cy="482.4" r="1.9" stroke-width="0.60"/>
<circle cx="1147.5" cy="477.6" r="1.9" stroke-width="0.60"/>
<circle cx="1160.3" cy="473.5" r="1.9" stroke-width="0.60"/>
<circle cx="942.7" cy="540.1" r="1.9" stroke-width="0.40"/>
<circle cx="955.5" cy="539.5" r="1.9" stroke-width="0.40"/>
<circle cx="968.3" cy="538.4" r="1.9" stroke-width="0.40"/>
<circle cx="981.1" cy="536.7" r="1.9" stroke-width="0.40"/>
<circle cx="993.9" cy="534.4" r="1.9" stroke-width="0.40"/>
<circle cx="1006.7" cy="531.3" r="1.9" stroke-width="0.40"/>
<circle cx="1019.5" cy="526.9" r="1.9" stroke-width="0.40"/>
<circle cx="1032.3" cy="521.7" r="1.9" stroke-width="0.40"/>
<circle cx="1045.1" cy="516.8" r="1.9" stroke-width="0.40"/>
<circle cx="1057.9" cy="512.6" r="1.9" stroke-width="0.40"/>
<circle cx="1070.7" cy="510.3" r="1.9" stroke-width="0.40"/>
<circle cx="942.7" cy="547.8" r="1.9" stroke-width="0.50"/>
<circle cx="955.5" cy="547.0" r="1.9" stroke-width="0.50"/>
<circle cx="968.3" cy="545.5" r="1.9" stroke-width="0.50"/>
<circle cx="981.1" cy="543.6" r="1.9" stroke-width="0.50"/>
<circle cx="993.9" cy="541.3" r="1.9" stroke-width="0.50"/>
<circle cx="1006.7" cy="538.4" r="1.9" stroke-width="0.50"/>
<circle cx="1019.5" cy="535.5" r="1.9" stroke-width="0.50"/>
<circle cx="1032.3" cy="532.7" r="1.9" stroke-width="0.50"/>
<circle cx="1045.1" cy="530.0" r="1.9" stroke-width="0.50"/>
<circle cx="1057.9" cy="527.5" r="1.9" stroke-width="0.50"/>
<circle cx="1070.7" cy="526.3" r="1.9" stroke-width="0.50"/>
<circle cx="1250.1" cy="1115.8" r="1.9" stroke-width="0.80"/>
<circle cx="1275.8" cy="1089.5" r="1.9" stroke-width="0.80"/>
<circle cx="1301.5" cy="1067.6" r="1.9" stroke-width="0.80"/>
<circle cx="1327.1" cy="1043.1" r="1.9" stroke-width="0.80"/>
<circle cx="1352.8" cy="1019.1" r="1.9" stroke-width="0.80"/>
<circle cx="1378.5" cy="997.2" r="1.9" stroke-width="0.80"/>
<circle cx="1404.2" cy="981.1" r="1.9" stroke-width="0.80"/>
<circle cx="1429.8" cy="971.9" r="1.9" stroke-width="0.80"/>
<circle cx="1455.5" cy="971.9" r="1.9" stroke-width="0.80"/>
<circle cx="1481.2" cy="979.1" r="1.9" stroke-width="0.80"/>
<circle cx="1506.9" cy="988.8" r="1.9" stroke-width="0.80"/>
<circle cx="1250.1" cy="1118.1" r="1.9" stroke-width="1.00"/>
<circle cx="1275.8" cy="1093.6" r="1.9" stroke-width="1.00"/>
<circle cx="1301.5" cy="1070.2" r="1.9" stroke-width="1.00"/>
<circle cx="1327.1" cy="1047.2" r="1.9" stroke-width="1.00"/>
<circle cx="1352.8" cy="1025.5" r="1.9" stroke-width="1.00"/>
<circle cx="1378.5" cy="1004.4" r="1.9" stroke-width="1.00"/>
<circle cx="1404.2" cy="988.5" r="1.9" stroke-width="1.00"/>
<circle cx="1429.8" cy="978.5" r="1.9" stroke-width="1.00"/>
<circle cx="1455.5" cy="977.3" r="1.9" stroke-width="1.00"/>
<circle cx="1481.2" cy="983.4" r="1.9" stroke-width="1.00"/>
<circle cx="1506.9" cy="992.6" r="1.9" stroke-width="1.00"/>
<circle cx="1198.8" cy="469.2" r="1.9" stroke-width="0.40"/>
<circle cx="1224.4" cy="473.1" r="1.9" stroke-width="0.40"/>
<circle cx="1250.1" cy="484.5" r="1.9" stroke-width="0.40"/>
<circle cx="1275.8" cy="497.6" r="1.9" stroke-width="0.40"/>
<circle cx="1301.5" cy="508.6" r="1.9" stroke-width="0.40"/>
</g>
</g>
<rect x="450.40" y="288.3" width="1268.08" height="840.00" fill="none" stroke="#000" stroke-width="3.33"/>
<line x1="435.4" y1="1082.3" x2="450" y2="1082.3" stroke="#000" stroke-width="3.33"/>
<text class="tk" x="420.8" y="1098.1" text-anchor="end">−4</text>
<line x1="435.4" y1="988.3" x2="450" y2="988.3" stroke="#000" stroke-width="3.33"/>
<text class="tk" x="420.8" y="1004.1" text-anchor="end">−3</text>
<line x1="435.4" y1="894.3" x2="450" y2="894.3" stroke="#000" stroke-width="3.33"/>
<text class="tk" x="420.8" y="910.1" text-anchor="end">−2</text>
<line x1="435.4" y1="800.3" x2="450" y2="800.3" stroke="#000" stroke-width="3.33"/>
<text class="tk" x="420.8" y="816.1" text-anchor="end">−1</text>
<line x1="435.4" y1="706.3" x2="450" y2="706.3" stroke="#000" stroke-width="3.33"/>
<text class="tk" x="420.8" y="722.1" text-anchor="end">0</text>
<line x1="435.4" y1="612.3" x2="450" y2="612.3" stroke="#000" stroke-width="3.33"/>
<text class="tk" x="420.8" y="628.1" text-anchor="end">1</text>
<line x1="435.4" y1="518.3" x2="450" y2="518.3" stroke="#000" stroke-width="3.33"/>
<text class="tk" x="420.8" y="534.1" text-anchor="end">2</text>
<line x1="435.4" y1="424.3" x2="450" y2="424.3" stroke="#000" stroke-width="3.33"/>
<text class="tk" x="420.8" y="440.1" text-anchor="end">3</text>
<line x1="435.4" y1="330.3" x2="450" y2="330.3" stroke="#000" stroke-width="3.33"/>
<text class="tk" x="420.8" y="346.1" text-anchor="end">4</text>
<line x1="508.0" y1="1128" x2="508.0" y2="1143.4" stroke="#000" stroke-width="3.33"/>
<text class="tk" x="508.0" y="1190" text-anchor="middle">G</text>
<line x1="929.9" y1="1128" x2="929.9" y2="1143.4" stroke="#000" stroke-width="3.33"/>
<text class="tk" x="929.9" y="1190" text-anchor="middle">M</text>
<line x1="1173.1" y1="1128" x2="1173.1" y2="1143.4" stroke="#000" stroke-width="3.33"/>
<text class="tk" x="1173.1" y="1190" text-anchor="middle">K</text>
<line x1="1660.9" y1="1128" x2="1660.9" y2="1143.4" stroke="#000" stroke-width="3.33"/>
<text class="tk" x="1660.9" y="1190" text-anchor="middle">G</text>
<text class="tt" x="1084.1" y="263" text-anchor="middle">Mo 1 px</text>
</g>
<g transform="translate(1521.80,0.00)">
<line x1="508.0" y1="288" x2="508.0" y2="1128" stroke="#000" stroke-width="6.25"/>
<line x1="929.9" y1="288" x2="929.9" y2="1128" stroke="#000" stroke-width="6.25"/>
<line x1="1173.1" y1="288" x2="1173.1" y2="1128" stroke="#000" stroke-width="6.25"/>
<line x1="1660.9" y1="288" x2="1660.9" y2="1128" stroke="#000" stroke-width="6.25"/>
<line x1="450" y1="706.3" x2="1718.18" y2="706.3" stroke="#808080" stroke-width="8.33" stroke-dasharray="53.33 13.33 8.33 13.33"/>
<g clip-path="url(#cp)">
<g fill="none" stroke="#0000ff" stroke-width="2.2" stroke-linejoin="round" stroke-linecap="butt">
<polyline points="508.0,512.6 530.2,513.4 552.4,516.1 574.6,516.5 596.8,506.1 619.0,493.3 641.2,479.5 663.4,466.1 685.6,453.3 707.8,441.2 730.1,429.7 752.3,419.2 774.5,410.2 796.7,402.6 818.9,396.1 841.1,390.9 863.3,386.9 885.5,384.2 907.7,382.9 929.9,382.5"/>
<polyline points="508.0,512.6 530.2,516.5 552.4,520.7 574.6,518.0 596.8,510.7 619.0,499.6 641.2,487.1 663.4,475.7 685.6,465.1 707.8,455.6 730.1,447.0 752.3,439.7 774.5,433.6 796.7,428.2 818.9,424.4 841.1,421.5 863.3,419.6 885.5,418.3 907.7,417.5 929.9,417.3"/>
<polyline points="508.0,522.6 530.2,520.8 552.4,524.3 574.6,519.5 596.8,516.1 619.0,504.4 641.2,492.9 663.4,481.4 685.6,469.9 707.8,459.4 730.1,449.8 752.3,441.6 774.5,434.9 796.7,429.4 818.9,425.3 841.1,422.1 863.3,420.0 885.5,418.5 907.7,417.7 929.9,417.3"/>
<polyline points="508.0,522.6 530.2,522.5 552.4,525.6 574.6,532.9 596.8,533.4 619.0,539.8 641.2,539.8 663.4,528.9 685.6,513.9 707.8,498.2 730.1,482.9 752.3,468.0 774.5,454.6 796.7,443.1 818.9,434.5 841.1,428.8 863.3,425.3 885.5,424.4 907.7,425.5 929.9,427.3"/>
<polyline points="508.0,522.6 530.2,524.0 552.4,527.6 574.6,534.1 596.8,538.3 619.0,543.6 641.2,543.6 663.4,539.2 685.6,532.5 707.8,522.0 730.1,512.4 752.3,501.1 774.5,489.6 796.7,477.6 818.9,466.1 841.1,455.6 863.3,446.0 885.5,438.4 907.7,432.0 929.9,427.8"/>
<polyline points="508.0,522.6 530.2,526.0 552.4,533.7 574.6,536.0 596.8,539.8 619.0,544.4 641.2,544.2 663.4,539.9 685.6,533.1 707.8,522.7 730.1,513.9 752.3,504.7 774.5,494.8 796.7,484.3 818.9,475.7 841.1,469.5 863.3,465.5 885.5,462.8 907.7,461.3 929.9,460.7"/>
<polyline points="508.0,537.7 530.2,536.0 552.4,535.2 574.6,539.8 596.8,545.9 619.0,545.9 641.2,547.4 663.4,557.0 685.6,566.2 707.8,574.8 730.1,579.3 752.3,578.4 774.5,574.2 796.7,569.1 818.9,562.7 841.1,556.4 863.3,550.2 885.5,545.5 907.7,541.0 929.9,540.4"/>
<polyline points="508.0,537.7 530.2,537.5 552.4,539.0 574.6,541.7 596.8,546.7 619.0,546.8 641.2,550.6 663.4,560.2 685.6,568.5 707.8,576.1 730.1,580.6 752.3,581.2 774.5,575.5 796.7,570.0 818.9,563.6 841.1,557.0 863.3,550.9 885.5,546.1 907.7,544.9 929.9,548.3"/>
<polyline points="508.0,537.7 530.2,538.5 552.4,540.6 574.6,543.0 596.8,549.0 619.0,555.9 641.2,564.6 663.4,574.2 685.6,581.0 707.8,582.5 730.1,581.6 752.3,582.8 774.5,588.6 796.7,590.5 818.9,591.0 841.1,589.9 863.3,578.0 885.5,564.6 907.7,554.4 929.9,548.3"/>
<polyline points="508.0,537.7 530.2,539.4 552.4,541.5 574.6,546.7 596.8,557.0 619.0,564.7 641.2,571.7 663.4,578.0 685.6,582.5 707.8,586.6 730.1,585.1 752.3,584.4 774.5,589.1 796.7,590.9 818.9,591.3 841.1,590.2 863.3,588.9 885.5,587.6 907.7,586.6 929.9,586.3"/>
<polyline points="508.0,544.8 530.2,543.5 552.4,544.0 574.6,549.7 596.8,558.9 619.0,568.1 641.2,576.8 663.4,583.8 685.6,587.0 707.8,589.5 730.1,595.9 752.3,599.7 774.5,601.6 796.7,602.0 818.9,600.4 841.1,590.5 863.3,589.3 885.5,588.0 907.7,587.0 929.9,586.6"/>
<polyline points="508.0,544.8 530.2,545.8 552.4,550.1 574.6,554.2 596.8,565.0 619.0,584.6 641.2,601.6 663.4,618.2 685.6,629.3 707.8,636.1 730.1,636.7 752.3,632.9 774.5,625.9 796.7,615.7 818.9,604.2 841.1,597.8 863.3,594.6 885.5,592.1 907.7,590.4 929.9,589.5"/>
<polyline points="508.0,752.6 530.2,753.5 552.4,758.3 574.6,765.8 596.8,775.9 619.0,789.3 641.2,804.6 663.4,821.5 685.6,839.1 707.8,857.2 730.1,871.6 752.3,882.1 774.5,886.9 796.7,887.3 818.9,884.0 841.1,877.3 863.3,869.3 885.5,862.0 907.7,857.8 929.9,856.3"/>
<polyline points="508.0,752.6 530.2,753.7 552.4,758.7 574.6,766.4 596.8,776.9 619.0,791.2 641.2,807.5 663.4,825.7 685.6,844.8 707.8,863.9 730.1,878.3 752.3,886.9 774.5,890.7 796.7,889.8 818.9,885.4 841.1,879.2 863.3,872.5 885.5,868.1 907.7,866.8 929.9,869.3"/>
<polyline points="508.0,840.0 530.2,838.1 552.4,832.9 574.6,828.1 596.8,827.0 619.0,829.5 641.2,837.1 663.4,847.1 685.6,858.6 707.8,869.3 730.1,880.2 752.3,889.8 774.5,897.4 796.7,902.2 818.9,899.3 841.1,890.7 863.3,884.0 885.5,880.2 907.7,875.0 929.9,869.7"/>
<polyline points="508.0,862.0 530.2,861.6 552.4,860.9 574.6,860.1 596.8,859.5 619.0,860.1 641.2,862.0 663.4,866.8 685.6,875.4 707.8,886.9 730.1,899.3 752.3,911.4 774.5,920.8 796.7,909.5 818.9,900.3 841.1,891.3 863.3,884.6 885.5,880.6 907.7,875.4 929.9,869.7"/>
<polyline points="508.0,930.3 530.2,928.0 552.4,924.2 574.6,920.9 596.8,918.5 619.0,917.1 641.2,918.5 663.4,922.3 685.6,928.0 707.8,935.7 730.1,943.9 752.3,933.4 774.5,921.3 796.7,910.2 818.9,900.9 841.1,897.4 863.3,890.3 885.5,882.1 907.7,876.4 929.9,875.8"/>
<polyline points="508.0,930.3 530.2,929.0 552.4,926.7 574.6,924.8 596.8,923.2 619.0,924.2 641.2,927.4 663.4,933.8 685.6,942.4 707.8,952.3 730.1,945.5 752.3,934.0 774.5,922.0 796.7,919.4 818.9,910.8 841.1,904.1 863.3,898.4 885.5,895.1 907.7,893.2 929.9,892.6"/>
<polyline points="508.0,930.5 530.2,932.1 552.4,935.9 574.6,943.0 596.8,951.9 619.0,962.7 641.2,975.1 663.4,983.4 685.6,974.2 707.8,959.5 730.1,946.2 752.3,941.7 774.5,929.9 796.7,932.4 818.9,941.4 841.1,950.0 863.3,957.7 885.5,964.4 907.7,969.5 929.9,972.0"/>
<polyline points="508.0,930.5 530.2,933.0 552.4,937.9 574.6,944.9 596.8,954.4 619.0,965.3 641.2,978.0 663.4,984.8 685.6,975.2 707.8,960.5 730.1,953.4 752.3,951.9 774.5,959.6 796.7,967.2 818.9,972.0 841.1,974.9 863.3,976.2 885.5,975.9 907.7,974.3 929.9,972.0"/>
<polyline points="508.0,930.5 530.2,933.5 552.4,938.8 574.6,946.1 596.8,955.7 619.0,966.6 641.2,979.9 663.4,986.3 685.6,978.7 707.8,964.6 730.1,963.0 752.3,973.9 774.5,984.5 796.7,993.6 818.9,1000.7 841.1,1006.5 863.3,1010.9 885.5,1013.5 907.7,1015.1 929.9,1015.5"/>
<polyline points="508.0,931.5 530.2,937.2 552.4,949.2 574.6,965.8 596.8,985.5 619.0,1007.0 641.2,1000.3 663.4,992.0 685.6,1001.6 707.8,1013.7 730.1,1025.1 752.3,1036.6 774.5,1047.1 796.7,1056.7 818.9,1065.3 841.1,1072.0 863.3,1077.4 885.5,1081.6 907.7,1084.5 929.9,1085.8"/>
<polyline points="508.0,1030.9 530.2,1033.2 552.4,1030.9 574.6,1026.1 596.8,1019.0 619.0,1009.8 641.2,1001.6 663.4,995.5 685.6,1006.0 707.8,1018.4 730.1,1030.9 752.3,1042.4 774.5,1052.9 796.7,1062.4 818.9,1071.1 841.1,1078.1 863.3,1083.9 885.5,1088.3 907.7,1091.1 929.9,1092.5"/>
<polyline points="508.0,1034.7 530.2,1033.7 552.4,1031.5 574.6,1026.7 596.8,1019.8 619.0,1010.8 641.2,1029.5 663.4,1052.9 685.6,1076.2 707.8,1099.8 730.1,1123.3 752.3,1138.0 774.5,1146.6 796.7,1155.2 818.9,1163.9 841.1,1172.5 863.3,1181.1 885.5,1189.7 907.7,1198.3 929.9,1206.9"/>
<polyline points="508.0,1034.7 530.2,1035.7 552.4,1038.5 574.6,1047.5 596.8,1058.4 619.0,1070.5 641.2,1083.3 663.4,1096.7 685.6,1110.1 707.8,1120.8 730.1,1129.4 752.3,1141.8 774.5,1150.5 796.7,1159.1 818.9,1167.7 841.1,1176.3 863.3,1184.9 885.5,1193.5 907.7,1202.1 929.9,1210.7"/>
<polyline points="508.0,1034.7 530.2,1036.2 552.4,1041.2 574.6,1051.4 596.8,1060.3 619.0,1073.0 641.2,1085.8 663.4,1099.8 685.6,1112.6 707.8,1124.6 730.1,1133.2 752.3,1146.6 774.5,1169.6 796.7,1192.5 818.9,1215.5 841.1,1238.5 863.3,1261.4 885.5,1284.4 907.7,1307.3 929.9,1324.4"/>
<polyline points="508.0,1034.7 530.2,1036.6 552.4,1043.1 574.6,1055.2 596.8,1069.9 619.0,1085.8 641.2,1103.0 663.4,1120.0 685.6,1137.1 707.8,1154.1 730.1,1171.1 752.3,1188.1 774.5,1205.2 796.7,1222.2 818.9,1239.2 841.1,1256.3 863.3,1273.3 885.5,1290.3 907.7,1307.3 929.9,1330.3"/>
<polyline points="508.0,1034.7 530.2,1037.2 552.4,1044.5 574.6,1057.1 596.8,1072.4 619.0,1089.0 641.2,1106.8 663.4,1124.6 685.6,1142.8 707.8,1161.0 730.1,1179.2 752.3,1197.3 774.5,1215.5 796.7,1233.7 818.9,1251.9 841.1,1270.0 863.3,1288.2 885.5,1306.4 907.7,1324.6 929.9,1342.7"/>
<polyline points="929.9,382.4 942.7,384.4 955.5,388.6 968.3,395.3 981.1,404.8 993.9,406.5 1006.7,401.9 1019.5,395.9 1032.3,389.3 1045.1,382.4 1057.9,375.4 1070.7,368.9 1083.5,363.4 1096.3,358.5 1109.1,354.3 1121.9,351.1 1134.7,348.4 1147.5,347.1 1160.3,347.1 1173.1,349.1"/>
<polyline points="929.9,417.3 942.7,417.7 955.5,417.1 968.3,415.1 981.1,411.9 993.9,407.0 1006.7,402.3 1019.5,396.2 1032.3,389.7 1045.1,382.8 1057.9,375.8 1070.7,369.2 1083.5,363.7 1096.3,358.9 1109.1,354.6 1121.9,351.4 1134.7,348.8 1147.5,347.4 1160.3,347.3 1173.1,349.1"/>
<polyline points="929.9,417.3 942.7,417.9 955.5,417.3 968.3,415.4 981.1,412.3 993.9,414.8 1006.7,423.2 1019.5,423.4 1032.3,417.7 1045.1,410.2 1057.9,402.5 1070.7,395.1 1083.5,387.8 1096.3,380.7 1109.1,374.4 1121.9,368.5 1134.7,362.9 1147.5,357.7 1160.3,353.2 1173.1,349.1"/>
<polyline points="929.9,426.9 942.7,427.7 955.5,430.9 968.3,436.6 981.1,444.1 993.9,445.2 1006.7,441.4 1019.5,445.8 1032.3,455.7 1045.1,464.9 1057.9,473.5 1070.7,477.6 1083.5,477.6 1096.3,474.3 1109.1,471.2 1121.9,467.8 1134.7,465.5 1147.5,465.3 1160.3,467.2 1173.1,470.7"/>
<polyline points="929.9,426.9 942.7,428.0 955.5,431.4 968.3,437.2 981.1,444.9 993.9,454.0 1006.7,464.9 1019.5,474.7 1032.3,483.9 1045.1,491.6 1057.9,497.1 1070.7,499.9 1083.5,499.4 1096.3,496.5 1109.1,492.2 1121.9,487.3 1134.7,482.4 1147.5,477.6 1160.3,473.5 1173.1,470.7"/>
<polyline points="929.9,460.7 942.7,459.9 955.5,457.8 968.3,454.4 981.1,449.6 993.9,454.4 1006.7,465.3 1019.5,475.0 1032.3,484.2 1045.1,491.9 1057.9,497.4 1070.7,500.3 1083.5,499.7 1096.3,496.8 1109.1,492.6 1121.9,487.7 1134.7,482.7 1147.5,477.9 1160.3,473.8 1173.1,470.7"/>
<polyline points="929.9,540.7 942.7,540.1 955.5,539.5 968.3,538.4 981.1,536.7 993.9,534.4 1006.7,531.3 1019.5,526.9 1032.3,521.7 1045.1,516.8 1057.9,512.6 1070.7,510.3 1083.5,512.6 1096.3,517.7 1109.1,523.5 1121.9,529.0 1134.7,533.5 1147.5,537.1 1160.3,539.4 1173.1,540.7"/>
<polyline points="929.9,548.2 942.7,547.8 955.5,547.0 968.3,545.5 981.1,543.6 993.9,541.3 1006.7,538.4 1019.5,535.5 1032.3,532.7 1045.1,530.0 1057.9,527.5 1070.7,526.3 1083.5,527.7 1096.3,530.6 1109.1,534.0 1121.9,536.9 1134.7,539.1 1147.5,540.2 1160.3,540.7 1173.1,540.7"/>
<polyline points="929.9,548.2 942.7,547.9 955.5,547.1 968.3,545.7 981.1,543.8 993.9,541.5 1006.7,538.6 1019.5,535.8 1032.3,532.9 1045.1,530.2 1057.9,527.7 1070.7,526.6 1083.5,527.9 1096.3,530.8 1109.1,534.3 1121.9,537.1 1134.7,539.3 1147.5,540.3 1160.3,540.7 1173.1,540.7"/>
<polyline points="929.9,586.6 942.7,586.7 955.5,587.1 968.3,587.2 981.1,586.1 993.9,585.0 1006.7,584.9 1019.5,585.8 1032.3,588.1 1045.1,591.6 1057.9,595.8 1070.7,600.8 1083.5,605.9 1096.3,611.3 1109.1,616.8 1121.9,622.0 1134.7,626.8 1147.5,631.2 1160.3,634.4 1173.1,636.3"/>
<polyline points="929.9,586.6 942.7,586.9 955.5,587.2 968.3,587.6 981.1,588.5 993.9,589.8 1006.7,591.6 1019.5,593.9 1032.3,596.7 1045.1,600.2 1057.9,604.2 1070.7,608.8 1083.5,613.4 1096.3,618.3 1109.1,622.9 1121.9,627.2 1134.7,630.8 1147.5,633.7 1160.3,635.5 1173.1,636.3"/>
<polyline points="929.9,589.6 942.7,588.7 955.5,588.1 968.3,587.8 981.1,588.7 993.9,590.1 1006.7,591.9 1019.5,594.2 1032.3,597.1 1045.1,600.5 1057.9,604.5 1070.7,609.1 1083.5,613.7 1096.3,618.5 1109.1,623.1 1121.9,627.4 1134.7,630.9 1147.5,633.8 1160.3,635.5 1173.1,636.3"/>
<polyline points="929.9,856.4 942.7,854.4 955.5,849.3 968.3,844.4 981.1,839.2 993.9,835.4 1006.7,832.3 1019.5,829.5 1032.3,826.4 1045.1,824.3 1057.9,822.3 1070.7,819.5 1083.5,816.3 1096.3,813.4 1109.1,810.2 1121.9,807.1 1134.7,804.2 1147.5,802.2 1160.3,801.1 1173.1,801.1"/>
<polyline points="929.9,869.6 942.7,863.3 955.5,857.6 968.3,852.4 981.1,847.8 993.9,844.4 1006.7,840.7 1019.5,837.8 1032.3,835.4 1045.1,832.6 1057.9,829.5 1070.7,826.2 1083.5,822.9 1096.3,819.5 1109.1,815.7 1121.9,811.7 1134.7,807.6 1147.5,804.2 1160.3,801.9 1173.1,801.1"/>
<polyline points="929.9,876.6 942.7,882.4 955.5,893.5 968.3,905.6 981.1,919.5 993.9,934.4 1006.7,950.5 1019.5,966.5 1032.3,972.5 1045.1,975.0 1057.9,978.0 1070.7,980.8 1083.5,984.2 1096.3,988.0 1109.1,992.0 1121.9,996.0 1134.7,999.8 1147.5,1002.9 1160.3,1004.9 1173.1,1005.6"/>
<polyline points="929.9,893.3 942.7,896.7 955.5,906.5 968.3,919.5 981.1,935.5 993.9,951.5 1006.7,969.6 1019.5,974.6 1032.3,987.4 1045.1,996.0 1057.9,995.5 1070.7,995.2 1083.5,995.7 1096.3,996.8 1109.1,998.3 1121.9,1000.1 1134.7,1002.1 1147.5,1003.7 1160.3,1005.0 1173.1,1005.6"/>
<polyline points="929.9,971.4 942.7,971.1 955.5,970.9 968.3,970.7 981.1,970.5 993.9,970.7 1006.7,971.9 1019.5,974.6 1032.3,987.4 1045.1,1005.6 1057.9,1023.5 1070.7,1040.4 1083.5,1056.4 1096.3,1069.6 1109.1,1075.4 1121.9,1077.1 1134.7,1076.7 1147.5,1076.5 1160.3,1076.7 1173.1,1077.7"/>
<polyline points="929.9,971.4 942.7,971.1 955.5,970.9 968.3,970.7 981.1,970.5 993.9,970.7 1006.7,971.9 1019.5,985.4 1032.3,995.5 1045.1,1005.6 1057.9,1023.5 1070.7,1040.4 1083.5,1056.4 1096.3,1069.6 1109.1,1075.4 1121.9,1077.1 1134.7,1076.7 1147.5,1076.5 1160.3,1076.7 1173.1,1077.7"/>
<polyline points="929.9,1015.9 942.7,1015.4 955.5,1014.0 968.3,1011.7 981.1,1009.1 993.9,1006.8 1006.7,1005.0 1019.5,1004.8 1032.3,1014.5 1045.1,1031.7 1057.9,1050.5 1070.7,1070.4 1083.5,1088.3 1096.3,1096.6 1109.1,1097.8 1121.9,1093.7 1134.7,1089.1 1147.5,1084.6 1160.3,1080.5 1173.1,1077.7"/>
<polyline points="929.9,1086.3 942.7,1086.9 955.5,1088.6 968.3,1091.4 981.1,1094.5 993.9,1096.0 1006.7,1096.4 1019.5,1096.4 1032.3,1096.0 1045.1,1095.5 1057.9,1094.7 1070.7,1094.0 1083.5,1093.7 1096.3,1097.2 1109.1,1104.1 1121.9,1115.6 1134.7,1125.3 1147.5,1135.6 1160.3,1146.0 1173.1,1156.3"/>
<polyline points="929.9,1092.6 942.7,1092.9 955.5,1093.7 968.3,1094.5 981.1,1095.5 993.9,1096.0 1006.7,1096.4 1019.5,1096.4 1032.3,1096.0 1045.1,1095.5 1057.9,1094.7 1070.7,1094.0 1083.5,1093.7 1096.3,1099.5 1109.1,1104.1 1121.9,1115.6 1134.7,1125.3 1147.5,1135.6 1160.3,1146.0 1173.1,1156.3"/>
<polyline points="929.9,1092.6 942.7,1092.9 955.5,1093.7 968.3,1094.5 981.1,1095.5 993.9,1097.5 1006.7,1100.6 1019.5,1103.5 1032.3,1105.8 1045.1,1107.2 1057.9,1107.5 1070.7,1106.7 1083.5,1105.2 1096.3,1108.7 1109.1,1122.4 1121.9,1136.8 1134.7,1150.6 1147.5,1164.3 1160.3,1178.1 1173.1,1191.9"/>
<polyline points="1173.1,349.3 1198.8,345.2 1224.4,345.2 1250.1,349.0 1275.8,355.1 1301.5,362.8 1327.1,371.2 1352.8,379.9 1378.5,389.5 1404.2,401.3 1429.8,415.1 1455.5,431.3 1481.2,449.2 1506.9,466.8 1532.5,483.4 1558.2,499.9 1583.9,513.3 1609.6,517.4 1635.2,514.2 1660.9,512.6"/>
<polyline points="1173.1,349.3 1198.8,353.3 1224.4,359.7 1250.1,366.1 1275.8,372.2 1301.5,378.1 1327.1,383.4 1352.8,389.1 1378.5,396.0 1404.2,405.6 1429.8,417.6 1455.5,432.1 1481.2,449.7 1506.9,467.3 1532.5,484.0 1558.2,499.9 1583.9,513.3 1609.6,520.3 1635.2,517.7 1660.9,512.6"/>
<polyline points="1173.1,349.3 1198.8,353.6 1224.4,360.0 1250.1,366.4 1275.8,372.6 1301.5,378.4 1327.1,383.7 1352.8,389.4 1378.5,396.4 1404.2,406.1 1429.8,418.2 1455.5,432.9 1481.2,451.5 1506.9,470.7 1532.5,488.8 1558.2,507.2 1583.9,519.3 1609.6,521.1 1635.2,521.9 1660.9,522.5"/>
<polyline points="1173.1,470.5 1198.8,469.2 1224.4,473.1 1250.1,484.5 1275.8,497.6 1301.5,508.6 1327.1,512.6 1352.8,512.9 1378.5,515.8 1404.2,521.7 1429.8,529.2 1455.5,536.3 1481.2,540.1 1506.9,543.6 1532.5,543.9 1558.2,535.6 1583.9,529.9 1609.6,529.9 1635.2,523.2 1660.9,522.5"/>
<polyline points="1173.1,470.5 1198.8,469.5 1224.4,473.5 1250.1,485.0 1275.8,498.0 1301.5,509.0 1327.1,515.5 1352.8,520.2 1378.5,523.7 1404.2,527.9 1429.8,532.4 1455.5,536.6 1481.2,540.4 1506.9,543.9 1532.5,544.2 1558.2,541.7 1583.9,535.9 1609.6,531.5 1635.2,525.7 1660.9,522.5"/>
<polyline points="1173.1,470.5 1198.8,483.0 1224.4,499.8 1250.1,513.3 1275.8,517.8 1301.5,514.8 1327.1,515.9 1352.8,520.5 1378.5,524.0 1404.2,528.2 1429.8,532.8 1455.5,536.6 1481.2,543.5 1506.9,549.0 1532.5,544.6 1558.2,541.7 1583.9,535.9 1609.6,531.5 1635.2,525.7 1660.9,522.5"/>
<polyline points="1173.1,540.4 1198.8,539.2 1224.4,536.6 1250.1,535.1 1275.8,536.6 1301.5,543.0 1327.1,548.8 1352.8,555.3 1378.5,562.0 1404.2,568.7 1429.8,572.2 1455.5,571.3 1481.2,566.3 1506.9,559.1 1532.5,555.8 1558.2,551.3 1583.9,542.9 1609.6,535.6 1635.2,535.6 1660.9,537.7"/>
<polyline points="1173.1,540.4 1198.8,540.1 1224.4,537.7 1250.1,535.8 1275.8,537.3 1301.5,544.2 1327.1,552.3 1352.8,560.5 1378.5,568.1 1404.2,575.0 1429.8,579.0 1455.5,579.9 1481.2,577.1 1506.9,570.7 1532.5,560.7 1558.2,552.9 1583.9,545.5 1609.6,536.2 1635.2,538.5 1660.9,537.7"/>
<polyline points="1173.1,540.4 1198.8,540.3 1224.4,538.0 1250.1,536.1 1275.8,537.7 1301.5,544.5 1327.1,552.7 1352.8,560.8 1378.5,568.4 1404.2,575.3 1429.8,579.3 1455.5,580.2 1481.2,577.4 1506.9,571.0 1532.5,561.2 1558.2,554.4 1583.9,547.7 1609.6,537.2 1635.2,540.4 1660.9,537.7"/>
<polyline points="1173.1,636.4 1198.8,631.6 1224.4,621.5 1250.1,608.7 1275.8,596.7 1301.5,589.8 1327.1,590.9 1352.8,599.2 1378.5,608.5 1404.2,613.6 1429.8,613.4 1455.5,608.5 1481.2,600.1 1506.9,590.2 1532.5,578.3 1558.2,565.9 1583.9,553.8 1609.6,544.8 1635.2,541.0 1660.9,537.7"/>
<polyline points="1173.1,636.4 1198.8,631.8 1224.4,621.8 1250.1,609.0 1275.8,597.0 1301.5,590.2 1327.1,591.2 1352.8,599.5 1378.5,608.8 1404.2,613.9 1429.8,613.7 1455.5,608.8 1481.2,600.4 1506.9,590.5 1532.5,578.6 1558.2,565.9 1583.9,553.8 1609.6,544.8 1635.2,542.6 1660.9,545.0"/>
<polyline points="1173.1,636.4 1198.8,634.7 1224.4,629.9 1250.1,625.4 1275.8,626.9 1301.5,635.0 1327.1,646.8 1352.8,657.0 1378.5,663.2 1404.2,663.6 1429.8,659.3 1455.5,649.8 1481.2,636.1 1506.9,619.5 1532.5,599.0 1558.2,576.7 1583.9,559.2 1609.6,551.2 1635.2,546.8 1660.9,545.0"/>
<polyline points="1173.1,801.3 1198.8,803.6 1224.4,811.3 1250.1,822.9 1275.8,835.0 1301.5,845.4 1327.1,854.1 1352.8,861.3 1378.5,868.1 1404.2,873.9 1429.8,871.9 1455.5,857.9 1481.2,842.6 1506.9,822.7 1532.5,802.8 1558.2,784.7 1583.9,770.6 1609.6,759.9 1635.2,754.1 1660.9,752.2"/>
<polyline points="1173.1,801.3 1198.8,803.8 1224.4,811.6 1250.1,823.2 1275.8,835.3 1301.5,845.7 1327.1,854.4 1352.8,861.6 1378.5,868.4 1404.2,874.2 1429.8,872.2 1455.5,858.2 1481.2,842.9 1506.9,823.0 1532.5,803.1 1558.2,785.0 1583.9,770.8 1609.6,760.1 1635.2,754.2 1660.9,752.2"/>
<polyline points="1173.1,801.3 1198.8,804.4 1224.4,812.8 1250.1,825.1 1275.8,838.1 1301.5,850.5 1327.1,861.2 1352.8,869.4 1378.5,875.1 1404.2,877.0 1429.8,873.9 1455.5,861.7 1481.2,845.6 1506.9,835.7 1532.5,828.6 1558.2,824.9 1583.9,826.5 1609.6,831.5 1635.2,836.7 1660.9,840.3"/>
<polyline points="1173.1,1005.3 1198.8,1001.0 1224.4,991.8 1250.1,980.8 1275.8,968.1 1301.5,955.1 1327.1,937.5 1352.8,920.7 1378.5,903.8 1404.2,887.7 1429.8,877.0 1455.5,873.9 1481.2,869.3 1506.9,863.7 1532.5,860.6 1558.2,859.4 1583.9,859.7 1609.6,860.6 1635.2,861.7 1660.9,862.1"/>
<polyline points="1173.1,1005.3 1198.8,1004.1 1224.4,998.7 1250.1,987.2 1275.8,971.9 1301.5,955.9 1327.1,943.2 1352.8,932.4 1378.5,923.0 1404.2,914.5 1429.8,908.7 1455.5,906.1 1481.2,905.8 1506.9,907.3 1532.5,910.4 1558.2,914.5 1583.9,919.1 1609.6,923.7 1635.2,927.9 1660.9,930.3"/>
<polyline points="1173.1,1077.6 1198.8,1072.2 1224.4,1071.1 1250.1,1074.2 1275.8,1078.3 1301.5,1067.6 1327.1,1043.1 1352.8,1019.1 1378.5,997.2 1404.2,981.1 1429.8,971.9 1455.5,971.9 1481.2,979.1 1506.9,988.8 1532.5,988.0 1558.2,966.6 1583.9,950.2 1609.6,937.5 1635.2,932.1 1660.9,930.6"/>
<polyline points="1173.1,1077.6 1198.8,1082.9 1224.4,1090.6 1250.1,1095.6 1275.8,1089.5 1301.5,1070.2 1327.1,1047.2 1352.8,1025.5 1378.5,1004.4 1404.2,988.5 1429.8,978.5 1455.5,977.3 1481.2,983.4 1506.9,992.6 1532.5,989.5 1558.2,968.9 1583.9,952.5 1609.6,940.1 1635.2,933.4 1660.9,931.1"/>
<polyline points="1173.1,1171.4 1198.8,1150.0 1224.4,1128.5 1250.1,1115.8 1275.8,1093.6 1301.5,1082.9 1327.1,1085.5 1352.8,1086.0 1378.5,1082.9 1404.2,1077.2 1429.8,1067.6 1455.5,1053.8 1481.2,1035.5 1506.9,1013.3 1532.5,1002.6 1558.2,995.2 1583.9,973.5 1609.6,953.6 1635.2,938.3 1660.9,932.1"/>
<polyline points="1173.1,1177.2 1198.8,1154.1 1224.4,1131.0 1250.1,1118.1 1275.8,1110.0 1301.5,1108.2 1327.1,1108.2 1352.8,1108.5 1378.5,1108.5 1404.2,1105.9 1429.8,1094.1 1455.5,1068.4 1481.2,1040.8 1506.9,1014.0 1532.5,1003.3 1558.2,1014.0 1583.9,1022.1 1609.6,1028.3 1635.2,1032.1 1660.9,1030.6"/>
<polyline points="1173.1,1189.3 1198.8,1183.2 1224.4,1177.0 1250.1,1170.9 1275.8,1164.8 1301.5,1158.7 1327.1,1152.6 1352.8,1146.4 1378.5,1140.3 1404.2,1132.7 1429.8,1121.9 1455.5,1089.0 1481.2,1062.2 1506.9,1038.5 1532.5,1017.1 1558.2,1014.5 1583.9,1022.8 1609.6,1028.9 1635.2,1032.6 1660.9,1030.9"/>
<polyline points="1173.1,1438.8 1198.8,1412.8 1224.4,1386.7 1250.1,1360.7 1275.8,1334.7 1301.5,1305.6 1327.1,1267.3 1352.8,1229.1 1378.5,1190.8 1404.2,1155.6 1429.8,1122.7 1455.5,1114.3 1481.2,1104.3 1506.9,1092.6 1532.5,1079.1 1558.2,1065.3 1583.9,1051.5 1609.6,1040.1 1635.2,1033.5 1660.9,1035.0"/>
<polyline points="1173.1,1449.5 1198.8,1423.5 1224.4,1397.5 1250.1,1371.4 1275.8,1343.9 1301.5,1308.7 1327.1,1282.7 1352.8,1256.6 1378.5,1230.6 1404.2,1204.6 1429.8,1178.6 1455.5,1155.6 1481.2,1132.7 1506.9,1115.8 1532.5,1095.6 1558.2,1076.8 1583.9,1059.2 1609.6,1045.4 1635.2,1037.0 1660.9,1035.0"/>
<polyline points="1173.1,1496.9 1198.8,1458.7 1224.4,1420.4 1250.1,1382.1 1275.8,1345.4 1301.5,1319.4 1327.1,1293.4 1352.8,1267.3 1378.5,1241.3 1404.2,1215.3 1429.8,1189.3 1455.5,1164.8 1481.2,1141.8 1506.9,1121.9 1532.5,1100.8 1558.2,1079.8 1583.9,1061.5 1609.6,1047.2 1635.2,1037.8 1660.9,1035.3"/>
</g>
<g fill="none" stroke="#008000">
<circle cx="508.0" cy="752.6" r="2.6" class="f"/>
<circle cx="508.0" cy="840.0" r="2.6" class="f"/>
<circle cx="508.0" cy="862.0" r="2.6" class="f"/>
<circle cx="508.0" cy="930.3" r="2.6" class="f"/>
<circle cx="508.0" cy="1030.9" r="2.6" class="f"/>
<circle cx="1660.9" cy="752.2" r="2.6" class="f"/>
<circle cx="1660.9" cy="840.3" r="2.6" class="f"/>
<circle cx="1660.9" cy="862.1" r="2.6" class="f"/>
<circle cx="1660.9" cy="930.3" r="2.6" class="f"/>
<circle cx="1660.9" cy="1030.6" r="2.6" class="f"/>
<circle cx="663.4" cy="983.4" r="1.9" stroke-width="0.60"/>
<circle cx="685.6" cy="974.2" r="1.9" stroke-width="0.75"/>
<circle cx="707.8" cy="959.5" r="1.9" stroke-width="0.90"/>
<circle cx="730.1" cy="945.5" r="1.9" stroke-width="1.05"/>
<circle cx="752.3" cy="933.4" r="1.9" stroke-width="1.20"/>
<circle cx="774.5" cy="921.3" r="1.75" stroke-width="1.85"/>
<circle cx="796.7" cy="909.5" r="1.75" stroke-width="2.00"/>
<circle cx="818.9" cy="900.3" r="1.75" stroke-width="2.15"/>
<circle cx="841.1" cy="890.7" r="1.75" stroke-width="2.30"/>
<circle cx="863.3" cy="884.0" r="1.75" stroke-width="2.45"/>
<circle cx="885.5" cy="880.2" r="2.6" class="f"/>
<circle cx="907.7" cy="875.0" r="2.6" class="f"/>
<circle cx="929.9" cy="869.7" r="2.6" class="f"/>
<circle cx="663.4" cy="984.8" r="1.9" stroke-width="0.60"/>
<circle cx="685.6" cy="975.2" r="1.9" stroke-width="0.75"/>
<circle cx="707.8" cy="960.5" r="1.9" stroke-width="0.90"/>
<circle cx="730.1" cy="946.2" r="1.9" stroke-width="1.05"/>
<circle cx="752.3" cy="934.0" r="1.9" stroke-width="1.20"/>
<circle cx="774.5" cy="922.0" r="1.75" stroke-width="1.85"/>
<circle cx="796.7" cy="910.2" r="1.75" stroke-width="2.00"/>
<circle cx="818.9" cy="900.9" r="1.75" stroke-width="2.15"/>
<circle cx="841.1" cy="891.3" r="1.75" stroke-width="2.30"/>
<circle cx="863.3" cy="884.6" r="1.75" stroke-width="2.45"/>
<circle cx="885.5" cy="880.6" r="2.6" class="f"/>
<circle cx="907.7" cy="875.4" r="2.6" class="f"/>
<circle cx="929.9" cy="869.7" r="2.6" class="f"/>
<circle cx="663.4" cy="986.3" r="1.9" stroke-width="0.50"/>
<circle cx="685.6" cy="978.7" r="1.9" stroke-width="0.57"/>
<circle cx="707.8" cy="964.6" r="1.9" stroke-width="0.65"/>
<circle cx="730.1" cy="953.4" r="1.9" stroke-width="0.72"/>
<circle cx="752.3" cy="941.7" r="1.9" stroke-width="0.80"/>
<circle cx="774.5" cy="929.9" r="1.9" stroke-width="0.88"/>
<circle cx="796.7" cy="919.4" r="1.9" stroke-width="0.95"/>
<circle cx="818.9" cy="910.8" r="1.9" stroke-width="1.02"/>
<circle cx="841.1" cy="904.1" r="1.9" stroke-width="1.10"/>
<circle cx="863.3" cy="898.4" r="1.9" stroke-width="1.17"/>
<circle cx="885.5" cy="895.1" r="1.75" stroke-width="1.75"/>
<circle cx="907.7" cy="893.2" r="1.75" stroke-width="1.82"/>
<circle cx="929.9" cy="892.6" r="1.75" stroke-width="1.90"/>
<circle cx="774.5" cy="886.9" r="1.9" stroke-width="0.30"/>
<circle cx="796.7" cy="887.3" r="1.9" stroke-width="0.37"/>
<circle cx="818.9" cy="884.0" r="1.9" stroke-width="0.44"/>
<circle cx="841.1" cy="877.3" r="1.9" stroke-width="0.51"/>
<circle cx="863.3" cy="869.3" r="1.9" stroke-width="0.59"/>
<circle cx="885.5" cy="862.0" r="1.9" stroke-width="0.66"/>
<circle cx="907.7" cy="857.8" r="1.9" stroke-width="0.73"/>
<circle cx="929.9" cy="856.3" r="1.9" stroke-width="0.80"/>
<circle cx="774.5" cy="890.7" r="1.9" stroke-width="0.30"/>
<circle cx="796.7" cy="889.8" r="1.9" stroke-width="0.40"/>
<circle cx="818.9" cy="885.4" r="1.9" stroke-width="0.50"/>
<circle cx="841.1" cy="879.2" r="1.9" stroke-width="0.60"/>
<circle cx="863.3" cy="872.5" r="1.9" stroke-width="0.70"/>
<circle cx="885.5" cy="868.1" r="1.9" stroke-width="0.80"/>
<circle cx="907.7" cy="866.8" r="1.9" stroke-width="0.90"/>
<circle cx="929.9" cy="869.3" r="1.9" stroke-width="1.00"/>
<circle cx="774.5" cy="897.4" r="1.9" stroke-width="0.30"/>
<circle cx="796.7" cy="902.2" r="1.9" stroke-width="0.37"/>
<circle cx="818.9" cy="899.3" r="1.9" stroke-width="0.44"/>
<circle cx="841.1" cy="897.4" r="1.9" stroke-width="0.51"/>
<circle cx="863.3" cy="890.3" r="1.9" stroke-width="0.59"/>
<circle cx="885.5" cy="882.1" r="1.9" stroke-width="0.66"/>
<circle cx="907.7" cy="876.4" r="1.9" stroke-width="0.73"/>
<circle cx="929.9" cy="875.8" r="1.9" stroke-width="0.80"/>
<circle cx="929.9" cy="856.4" r="1.9" stroke-width="1.00"/>
<circle cx="942.7" cy="854.4" r="1.9" stroke-width="0.96"/>
<circle cx="955.5" cy="849.3" r="1.9" stroke-width="0.92"/>
<circle cx="968.3" cy="844.4" r="1.9" stroke-width="0.88"/>
<circle cx="981.1" cy="839.2" r="1.9" stroke-width="0.83"/>
<circle cx="993.9" cy="835.4" r="1.9" stroke-width="0.79"/>
<circle cx="1006.7" cy="832.3" r="1.9" stroke-width="0.75"/>
<circle cx="1019.5" cy="829.5" r="1.9" stroke-width="0.71"/>
<circle cx="1032.3" cy="826.4" r="1.9" stroke-width="0.67"/>
<circle cx="1045.1" cy="824.3" r="1.9" stroke-width="0.62"/>
<circle cx="1057.9" cy="822.3" r="1.9" stroke-width="0.58"/>
<circle cx="1070.7" cy="819.5" r="1.9" stroke-width="0.54"/>
<circle cx="1083.5" cy="816.3" r="1.9" stroke-width="0.50"/>
<circle cx="1096.3" cy="813.4" r="1.9" stroke-width="0.30"/>
<circle cx="1109.1" cy="810.2" r="1.9" stroke-width="0.30"/>
<circle cx="1121.9" cy="807.1" r="1.9" stroke-width="0.30"/>
<circle cx="1134.7" cy="804.2" r="1.9" stroke-width="0.30"/>
<circle cx="929.9" cy="869.6" r="1.75" stroke-width="1.70"/>
<circle cx="942.7" cy="863.3" r="1.9" stroke-width="1.15"/>
<circle cx="955.5" cy="857.6" r="1.9" stroke-width="1.10"/>
<circle cx="968.3" cy="852.4" r="1.9" stroke-width="1.05"/>
<circle cx="981.1" cy="847.8" r="1.9" stroke-width="1.00"/>
<circle cx="993.9" cy="844.4" r="1.9" stroke-width="0.95"/>
<circle cx="1006.7" cy="840.7" r="1.9" stroke-width="0.90"/>
<circle cx="1019.5" cy="837.8" r="1.9" stroke-width="0.85"/>
<circle cx="1032.3" cy="835.4" r="1.9" stroke-width="0.80"/>
<circle cx="1045.1" cy="832.6" r="1.9" stroke-width="0.75"/>
<circle cx="1057.9" cy="829.5" r="1.9" stroke-width="0.70"/>
<circle cx="1070.7" cy="826.2" r="1.9" stroke-width="0.65"/>
<circle cx="1083.5" cy="822.9" r="1.9" stroke-width="0.60"/>
<circle cx="1096.3" cy="819.5" r="1.9" stroke-width="0.30"/>
<circle cx="1109.1" cy="815.7" r="1.9" stroke-width="0.30"/>
<circle cx="1121.9" cy="811.7" r="1.9" stroke-width="0.30"/>
<circle cx="1134.7" cy="807.6" r="1.9" stroke-width="0.30"/>
<circle cx="929.9" cy="876.6" r="2.6" class="f"/>
<circle cx="942.7" cy="882.4" r="2.6" class="f"/>
<circle cx="955.5" cy="893.5" r="2.6" class="f"/>
<circle cx="968.3" cy="905.6" r="2.6" class="f"/>
<circle cx="981.1" cy="919.5" r="2.6" class="f"/>
<circle cx="993.9" cy="934.4" r="2.6" class="f"/>
<circle cx="1006.7" cy="950.5" r="2.6" class="f"/>
<circle cx="1019.5" cy="966.5" r="2.6" class="f"/>
<circle cx="1032.3" cy="987.4" r="1.75" stroke-width="2.30"/>
<circle cx="1045.1" cy="1005.6" r="1.75" stroke-width="2.30"/>
<circle cx="1057.9" cy="1023.5" r="1.75" stroke-width="2.30"/>
<circle cx="1070.7" cy="1040.4" r="1.75" stroke-width="2.30"/>
<circle cx="1083.5" cy="1056.4" r="1.75" stroke-width="2.30"/>
<circle cx="1096.3" cy="1069.6" r="1.75" stroke-width="2.30"/>
<circle cx="1109.1" cy="1075.4" r="1.75" stroke-width="1.70"/>
<circle cx="1121.9" cy="1077.1" r="1.9" stroke-width="0.50"/>
<circle cx="1134.7" cy="1076.7" r="1.9" stroke-width="0.50"/>
<circle cx="1147.5" cy="1076.5" r="1.9" stroke-width="0.50"/>
<circle cx="1160.3" cy="1076.7" r="1.9" stroke-width="0.50"/>
<circle cx="929.9" cy="893.3" r="1.75" stroke-width="1.70"/>
<circle cx="942.7" cy="896.7" r="1.75" stroke-width="1.70"/>
<circle cx="955.5" cy="906.5" r="1.75" stroke-width="1.70"/>
<circle cx="968.3" cy="919.5" r="1.75" stroke-width="1.70"/>
<circle cx="981.1" cy="935.5" r="1.75" stroke-width="1.70"/>
<circle cx="993.9" cy="951.5" r="1.75" stroke-width="1.70"/>
<circle cx="1006.7" cy="969.6" r="1.75" stroke-width="1.70"/>
<circle cx="1019.5" cy="974.6" r="1.75" stroke-width="1.70"/>
<circle cx="1032.3" cy="995.5" r="1.9" stroke-width="1.00"/>
<circle cx="1032.3" cy="1014.5" r="1.9" stroke-width="0.90"/>
<circle cx="1045.1" cy="1031.7" r="1.9" stroke-width="0.90"/>
<circle cx="1057.9" cy="1050.5" r="1.9" stroke-width="0.90"/>
<circle cx="1070.7" cy="1070.4" r="1.9" stroke-width="0.90"/>
<circle cx="1083.5" cy="1088.3" r="1.9" stroke-width="0.90"/>
<circle cx="1096.3" cy="1099.5" r="1.9" stroke-width="0.80"/>
<circle cx="1109.1" cy="1104.1" r="1.9" stroke-width="0.80"/>
<circle cx="1121.9" cy="1115.6" r="1.9" stroke-width="0.80"/>
<circle cx="1134.7" cy="1125.3" r="1.9" stroke-width="0.80"/>
<circle cx="1173.1" cy="801.1" r="1.9" stroke-width="0.80"/>
<circle cx="1173.1" cy="1005.6" r="2.6" class="f"/>
<circle cx="1173.1" cy="1077.7" r="1.9" stroke-width="0.80"/>
<circle cx="1224.4" cy="1128.5" r="2.6" class="f"/>
<circle cx="1250.1" cy="1115.8" r="1.75" stroke-width="2.30"/>
<circle cx="1275.8" cy="1089.5" r="1.75" stroke-width="2.10"/>
<circle cx="1301.5" cy="1067.6" r="1.75" stroke-width="1.90"/>
<circle cx="1327.1" cy="1043.1" r="1.75" stroke-width="1.70"/>
<circle cx="1224.4" cy="1131.0" r="2.6" class="f"/>
<circle cx="1250.1" cy="1118.1" r="2.6" class="f"/>
<circle cx="1275.8" cy="1093.6" r="1.75" stroke-width="2.30"/>
<circle cx="1301.5" cy="1070.2" r="1.75" stroke-width="2.10"/>
<circle cx="1327.1" cy="1047.2" r="1.75" stroke-width="1.90"/>
<circle cx="1352.8" cy="1019.1" r="1.9" stroke-width="0.80"/>
<circle cx="1378.5" cy="997.2" r="1.9" stroke-width="0.80"/>
<circle cx="1404.2" cy="981.1" r="1.9" stroke-width="0.80"/>
<circle cx="1429.8" cy="971.9" r="1.9" stroke-width="0.80"/>
<circle cx="1455.5" cy="971.9" r="1.9" stroke-width="0.80"/>
<circle cx="1481.2" cy="979.1" r="1.9" stroke-width="0.80"/>
<circle cx="1352.8" cy="1025.5" r="1.9" stroke-width="0.80"/>
<circle cx="1378.5" cy="1004.4" r="1.9" stroke-width="0.80"/>
<circle cx="1404.2" cy="988.5" r="1.9" stroke-width="0.80"/>
<circle cx="1429.8" cy="978.5" r="1.9" stroke-width="0.80"/>
<circle cx="1455.5" cy="977.3" r="1.9" stroke-width="0.80"/>
<circle cx="1481.2" cy="983.4" r="1.9" stroke-width="0.80"/>
<circle cx="1250.1" cy="1095.6" r="1.9" stroke-width="0.30"/>
<circle cx="1275.8" cy="1110.0" r="1.9" stroke-width="0.30"/>
<circle cx="1301.5" cy="1108.2" r="1.9" stroke-width="0.30"/>
<circle cx="1327.1" cy="1108.2" r="1.9" stroke-width="0.30"/>
<circle cx="1352.8" cy="1108.5" r="1.9" stroke-width="0.30"/>
<circle cx="1378.5" cy="1108.5" r="1.9" stroke-width="0.30"/>
<circle cx="1404.2" cy="1105.9" r="1.9" stroke-width="0.30"/>
</g>
</g>
<rect x="450.70" y="288.3" width="1268.08" height="840.00" fill="none" stroke="#000" stroke-width="3.33"/>
<line x1="435.4" y1="1082.3" x2="450" y2="1082.3" stroke="#000" stroke-width="3.33"/>
<text class="tk" x="420.8" y="1098.1" text-anchor="end">−4</text>
<line x1="435.4" y1="988.3" x2="450" y2="988.3" stroke="#000" stroke-width="3.33"/>
<text class="tk" x="420.8" y="1004.1" text-anchor="end">−3</text>
<line x1="435.4" y1="894.3" x2="450" y2="894.3" stroke="#000" stroke-width="3.33"/>
<text class="tk" x="420.8" y="910.1" text-anchor="end">−2</text>
<line x1="435.4" y1="800.3" x2="450" y2="800.3" stroke="#000" stroke-width="3.33"/>
<text class="tk" x="420.8" y="816.1" text-anchor="end">−1</text>
<line x1="435.4" y1="706.3" x2="450" y2="706.3" stroke="#000" stroke-width="3.33"/>
<text class="tk" x="420.8" y="722.1" text-anchor="end">0</text>
<line x1="435.4" y1="612.3" x2="450" y2="612.3" stroke="#000" stroke-width="3.33"/>
<text class="tk" x="420.8" y="628.1" text-anchor="end">1</text>
<line x1="435.4" y1="518.3" x2="450" y2="518.3" stroke="#000" stroke-width="3.33"/>
<text class="tk" x="420.8" y="534.1" text-anchor="end">2</text>
<line x1="435.4" y1="424.3" x2="450" y2="424.3" stroke="#000" stroke-width="3.33"/>
<text class="tk" x="420.8" y="440.1" text-anchor="end">3</text>
<line x1="435.4" y1="330.3" x2="450" y2="330.3" stroke="#000" stroke-width="3.33"/>
<text class="tk" x="420.8" y="346.1" text-anchor="end">4</text>
<line x1="508.0" y1="1128" x2="508.0" y2="1143.4" stroke="#000" stroke-width="3.33"/>
<text class="tk" x="508.0" y="1190" text-anchor="middle">G</text>
<line x1="929.9" y1="1128" x2="929.9" y2="1143.4" stroke="#000" stroke-width="3.33"/>
<text class="tk" x="929.9" y="1190" text-anchor="middle">M</text>
<line x1="1173.1" y1="1128" x2="1173.1" y2="1143.4" stroke="#000" stroke-width="3.33"/>
<text class="tk" x="1173.1" y="1190" text-anchor="middle">K</text>
<line x1="1660.9" y1="1128" x2="1660.9" y2="1143.4" stroke="#000" stroke-width="3.33"/>
<text class="tk" x="1660.9" y="1190" text-anchor="middle">G</text>
<text class="tt" x="1084.1" y="263" text-anchor="middle">Mo 1 py</text>
</g>
<g transform="translate(0.00,1008.00)">
<line x1="508.0" y1="288" x2="508.0" y2="1128" stroke="#000" stroke-width="6.25"/>
<line x1="929.9" y1="288" x2="929.9" y2="1128" stroke="#000" stroke-width="6.25"/>
<line x1="1173.1" y1="288" x2="1173.1" y2="1128" stroke="#000" stroke-width="6.25"/>
<line x1="1660.9" y1="288" x2="1660.9" y2="1128" stroke="#000" stroke-width="6.25"/>
<line x1="450" y1="706.3" x2="1718.18" y2="706.3" stroke="#808080" stroke-width="8.33" stroke-dasharray="53.33 13.33 8.33 13.33"/>
<g clip-path="url(#cp)">
<g fill="none" stroke="#0000ff" stroke-width="2.2" stroke-linejoin="round" stroke-linecap="butt">
<polyline points="508.0,512.6 530.2,513.4 552.4,516.1 574.6,516.5 596.8,506.1 619.0,493.3 641.2,479.5 663.4,466.1 685.6,453.3 707.8,441.2 730.1,429.7 752.3,419.2 774.5,410.2 796.7,402.6 818.9,396.1 841.1,390.9 863.3,386.9 885.5,384.2 907.7,382.9 929.9,382.5"/>
<polyline points="508.0,512.6 530.2,516.5 552.4,520.7 574.6,518.0 596.8,510.7 619.0,499.6 641.2,487.1 663.4,475.7 685.6,465.1 707.8,455.6 730.1,447.0 752.3,439.7 774.5,433.6 796.7,428.2 818.9,424.4 841.1,421.5 863.3,419.6 885.5,418.3 907.7,417.5 929.9,417.3"/>
<polyline points="508.0,522.6 530.2,520.8 552.4,524.3 574.6,519.5 596.8,516.1 619.0,504.4 641.2,492.9 663.4,481.4 685.6,469.9 707.8,459.4 730.1,449.8 752.3,441.6 774.5,434.9 796.7,429.4 818.9,425.3 841.1,422.1 863.3,420.0 885.5,418.5 907.7,417.7 929.9,417.3"/>
<polyline points="508.0,522.6 530.2,522.5 552.4,525.6 574.6,532.9 596.8,533.4 619.0,539.8 641.2,539.8 663.4,528.9 685.6,513.9 707.8,498.2 730.1,482.9 752.3,468.0 774.5,454.6 796.7,443.1 818.9,434.5 841.1,428.8 863.3,425.3 885.5,424.4 907.7,425.5 929.9,427.3"/>
<polyline points="508.0,522.6 530.2,524.0 552.4,527.6 574.6,534.1 596.8,538.3 619.0,543.6 641.2,543.6 663.4,539.2 685.6,532.5 707.8,522.0 730.1,512.4 752.3,501.1 774.5,489.6 796.7,477.6 818.9,466.1 841.1,455.6 863.3,446.0 885.5,438.4 907.7,432.0 929.9,427.8"/>
<polyline points="508.0,522.6 530.2,526.0 552.4,533.7 574.6,536.0 596.8,539.8 619.0,544.4 641.2,544.2 663.4,539.9 685.6,533.1 707.8,522.7 730.1,513.9 752.3,504.7 774.5,494.8 796.7,484.3 818.9,475.7 841.1,469.5 863.3,465.5 885.5,462.8 907.7,461.3 929.9,460.7"/>
<polyline points="508.0,537.7 530.2,536.0 552.4,535.2 574.6,539.8 596.8,545.9 619.0,545.9 641.2,547.4 663.4,557.0 685.6,566.2 707.8,574.8 730.1,579.3 752.3,578.4 774.5,574.2 796.7,569.1 818.9,562.7 841.1,556.4 863.3,550.2 885.5,545.5 907.7,541.0 929.9,540.4"/>
<polyline points="508.0,537.7 530.2,537.5 552.4,539.0 574.6,541.7 596.8,546.7 619.0,546.8 641.2,550.6 663.4,560.2 685.6,568.5 707.8,576.1 730.1,580.6 752.3,581.2 774.5,575.5 796.7,570.0 818.9,563.6 841.1,557.0 863.3,550.9 885.5,546.1 907.7,544.9 929.9,548.3"/>
<polyline points="508.0,537.7 530.2,538.5 552.4,540.6 574.6,543.0 596.8,549.0 619.0,555.9 641.2,564.6 663.4,574.2 685.6,581.0 707.8,582.5 730.1,581.6 752.3,582.8 774.5,588.6 796.7,590.5 818.9,591.0 841.1,589.9 863.3,578.0 885.5,564.6 907.7,554.4 929.9,548.3"/>
<polyline points="508.0,537.7 530.2,539.4 552.4,541.5 574.6,546.7 596.8,557.0 619.0,564.7 641.2,571.7 663.4,578.0 685.6,582.5 707.8,586.6 730.1,585.1 752.3,584.4 774.5,589.1 796.7,590.9 818.9,591.3 841.1,590.2 863.3,588.9 885.5,587.6 907.7,586.6 929.9,586.3"/>
<polyline points="508.0,544.8 530.2,543.5 552.4,544.0 574.6,549.7 596.8,558.9 619.0,568.1 641.2,576.8 663.4,583.8 685.6,587.0 707.8,589.5 730.1,595.9 752.3,599.7 774.5,601.6 796.7,602.0 818.9,600.4 841.1,590.5 863.3,589.3 885.5,588.0 907.7,587.0 929.9,586.6"/>
<polyline points="508.0,544.8 530.2,545.8 552.4,550.1 574.6,554.2 596.8,565.0 619.0,584.6 641.2,601.6 663.4,618.2 685.6,629.3 707.8,636.1 730.1,636.7 752.3,632.9 774.5,625.9 796.7,615.7 818.9,604.2 841.1,597.8 863.3,594.6 885.5,592.1 907.7,590.4 929.9,589.5"/>
<polyline points="508.0,752.6 530.2,753.5 552.4,758.3 574.6,765.8 596.8,775.9 619.0,789.3 641.2,804.6 663.4,821.5 685.6,839.1 707.8,857.2 730.1,871.6 752.3,882.1 774.5,886.9 796.7,887.3 818.9,884.0 841.1,877.3 863.3,869.3 885.5,862.0 907.7,857.8 929.9,856.3"/>
<polyline points="508.0,752.6 530.2,753.7 552.4,758.7 574.6,766.4 596.8,776.9 619.0,791.2 641.2,807.5 663.4,825.7 685.6,844.8 707.8,863.9 730.1,878.3 752.3,886.9 774.5,890.7 796.7,889.8 818.9,885.4 841.1,879.2 863.3,872.5 885.5,868.1 907.7,866.8 929.9,869.3"/>
<polyline points="508.0,840.0 530.2,838.1 552.4,832.9 574.6,828.1 596.8,827.0 619.0,829.5 641.2,837.1 663.4,847.1 685.6,858.6 707.8,869.3 730.1,880.2 752.3,889.8 774.5,897.4 796.7,902.2 818.9,899.3 841.1,890.7 863.3,884.0 885.5,880.2 907.7,875.0 929.9,869.7"/>
<polyline points="508.0,862.0 530.2,861.6 552.4,860.9 574.6,860.1 596.8,859.5 619.0,860.1 641.2,862.0 663.4,866.8 685.6,875.4 707.8,886.9 730.1,899.3 752.3,911.4 774.5,920.8 796.7,909.5 818.9,900.3 841.1,891.3 863.3,884.6 885.5,880.6 907.7,875.4 929.9,869.7"/>
<polyline points="508.0,930.3 530.2,928.0 552.4,924.2 574.6,920.9 596.8,918.5 619.0,917.1 641.2,918.5 663.4,922.3 685.6,928.0 707.8,935.7 730.1,943.9 752.3,933.4 774.5,921.3 796.7,910.2 818.9,900.9 841.1,897.4 863.3,890.3 885.5,882.1 907.7,876.4 929.9,875.8"/>
<polyline points="508.0,930.3 530.2,929.0 552.4,926.7 574.6,924.8 596.8,923.2 619.0,924.2 641.2,927.4 663.4,933.8 685.6,942.4 707.8,952.3 730.1,945.5 752.3,934.0 774.5,922.0 796.7,919.4 818.9,910.8 841.1,904.1 863.3,898.4 885.5,895.1 907.7,893.2 929.9,892.6"/>
<polyline points="508.0,930.5 530.2,932.1 552.4,935.9 574.6,943.0 596.8,951.9 619.0,962.7 641.2,975.1 663.4,983.4 685.6,974.2 707.8,959.5 730.1,946.2 752.3,941.7 774.5,929.9 796.7,932.4 818.9,941.4 841.1,950.0 863.3,957.7 885.5,964.4 907.7,969.5 929.9,972.0"/>
<polyline points="508.0,930.5 530.2,933.0 552.4,937.9 574.6,944.9 596.8,954.4 619.0,965.3 641.2,978.0 663.4,984.8 685.6,975.2 707.8,960.5 730.1,953.4 752.3,951.9 774.5,959.6 796.7,967.2 818.9,972.0 841.1,974.9 863.3,976.2 885.5,975.9 907.7,974.3 929.9,972.0"/>
<polyline points="508.0,930.5 530.2,933.5 552.4,938.8 574.6,946.1 596.8,955.7 619.0,966.6 641.2,979.9 663.4,986.3 685.6,978.7 707.8,964.6 730.1,963.0 752.3,973.9 774.5,984.5 796.7,993.6 818.9,1000.7 841.1,1006.5 863.3,1010.9 885.5,1013.5 907.7,1015.1 929.9,1015.5"/>
<polyline points="508.0,931.5 530.2,937.2 552.4,949.2 574.6,965.8 596.8,985.5 619.0,1007.0 641.2,1000.3 663.4,992.0 685.6,1001.6 707.8,1013.7 730.1,1025.1 752.3,1036.6 774.5,1047.1 796.7,1056.7 818.9,1065.3 841.1,1072.0 863.3,1077.4 885.5,1081.6 907.7,1084.5 929.9,1085.8"/>
<polyline points="508.0,1030.9 530.2,1033.2 552.4,1030.9 574.6,1026.1 596.8,1019.0 619.0,1009.8 641.2,1001.6 663.4,995.5 685.6,1006.0 707.8,1018.4 730.1,1030.9 752.3,1042.4 774.5,1052.9 796.7,1062.4 818.9,1071.1 841.1,1078.1 863.3,1083.9 885.5,1088.3 907.7,1091.1 929.9,1092.5"/>
<polyline points="508.0,1034.7 530.2,1033.7 552.4,1031.5 574.6,1026.7 596.8,1019.8 619.0,1010.8 641.2,1029.5 663.4,1052.9 685.6,1076.2 707.8,1099.8 730.1,1123.3 752.3,1138.0 774.5,1146.6 796.7,1155.2 818.9,1163.9 841.1,1172.5 863.3,1181.1 885.5,1189.7 907.7,1198.3 929.9,1206.9"/>
<polyline points="508.0,1034.7 530.2,1035.7 552.4,1038.5 574.6,1047.5 596.8,1058.4 619.0,1070.5 641.2,1083.3 663.4,1096.7 685.6,1110.1 707.8,1120.8 730.1,1129.4 752.3,1141.8 774.5,1150.5 796.7,1159.1 818.9,1167.7 841.1,1176.3 863.3,1184.9 885.5,1193.5 907.7,1202.1 929.9,1210.7"/>
<polyline points="508.0,1034.7 530.2,1036.2 552.4,1041.2 574.6,1051.4 596.8,1060.3 619.0,1073.0 641.2,1085.8 663.4,1099.8 685.6,1112.6 707.8,1124.6 730.1,1133.2 752.3,1146.6 774.5,1169.6 796.7,1192.5 818.9,1215.5 841.1,1238.5 863.3,1261.4 885.5,1284.4 907.7,1307.3 929.9,1324.4"/>
<polyline points="508.0,1034.7 530.2,1036.6 552.4,1043.1 574.6,1055.2 596.8,1069.9 619.0,1085.8 641.2,1103.0 663.4,1120.0 685.6,1137.1 707.8,1154.1 730.1,1171.1 752.3,1188.1 774.5,1205.2 796.7,1222.2 818.9,1239.2 841.1,1256.3 863.3,1273.3 885.5,1290.3 907.7,1307.3 929.9,1330.3"/>
<polyline points="508.0,1034.7 530.2,1037.2 552.4,1044.5 574.6,1057.1 596.8,1072.4 619.0,1089.0 641.2,1106.8 663.4,1124.6 685.6,1142.8 707.8,1161.0 730.1,1179.2 752.3,1197.3 774.5,1215.5 796.7,1233.7 818.9,1251.9 841.1,1270.0 863.3,1288.2 885.5,1306.4 907.7,1324.6 929.9,1342.7"/>
<polyline points="929.9,382.4 942.7,384.4 955.5,388.6 968.3,395.3 981.1,404.8 993.9,406.5 1006.7,401.9 1019.5,395.9 1032.3,389.3 1045.1,382.4 1057.9,375.4 1070.7,368.9 1083.5,363.4 1096.3,358.5 1109.1,354.3 1121.9,351.1 1134.7,348.4 1147.5,347.1 1160.3,347.1 1173.1,349.1"/>
<polyline points="929.9,417.3 942.7,417.7 955.5,417.1 968.3,415.1 981.1,411.9 993.9,407.0 1006.7,402.3 1019.5,396.2 1032.3,389.7 1045.1,382.8 1057.9,375.8 1070.7,369.2 1083.5,363.7 1096.3,358.9 1109.1,354.6 1121.9,351.4 1134.7,348.8 1147.5,347.4 1160.3,347.3 1173.1,349.1"/>
<polyline points="929.9,417.3 942.7,417.9 955.5,417.3 968.3,415.4 981.1,412.3 993.9,414.8 1006.7,423.2 1019.5,423.4 1032.3,417.7 1045.1,410.2 1057.9,402.5 1070.7,395.1 1083.5,387.8 1096.3,380.7 1109.1,374.4 1121.9,368.5 1134.7,362.9 1147.5,357.7 1160.3,353.2 1173.1,349.1"/>
<polyline points="929.9,426.9 942.7,427.7 955.5,430.9 968.3,436.6 981.1,444.1 993.9,445.2 1006.7,441.4 1019.5,445.8 1032.3,455.7 1045.1,464.9 1057.9,473.5 1070.7,477.6 1083.5,477.6 1096.3,474.3 1109.1,471.2 1121.9,467.8 1134.7,465.5 1147.5,465.3 1160.3,467.2 1173.1,470.7"/>
<polyline points="929.9,426.9 942.7,428.0 955.5,431.4 968.3,437.2 981.1,444.9 993.9,454.0 1006.7,464.9 1019.5,474.7 1032.3,483.9 1045.1,491.6 1057.9,497.1 1070.7,499.9 1083.5,499.4 1096.3,496.5 1109.1,492.2 1121.9,487.3 1134.7,482.4 1147.5,477.6 1160.3,473.5 1173.1,470.7"/>
<polyline points="929.9,460.7 942.7,459.9 955.5,457.8 968.3,454.4 981.1,449.6 993.9,454.4 1006.7,465.3 1019.5,475.0 1032.3,484.2 1045.1,491.9 1057.9,497.4 1070.7,500.3 1083.5,499.7 1096.3,496.8 1109.1,492.6 1121.9,487.7 1134.7,482.7 1147.5,477.9 1160.3,473.8 1173.1,470.7"/>
<polyline points="929.9,540.7 942.7,540.1 955.5,539.5 968.3,538.4 981.1,536.7 993.9,534.4 1006.7,531.3 1019.5,526.9 1032.3,521.7 1045.1,516.8 1057.9,512.6 1070.7,510.3 1083.5,512.6 1096.3,517.7 1109.1,523.5 1121.9,529.0 1134.7,533.5 1147.5,537.1 1160.3,539.4 1173.1,540.7"/>
<polyline points="929.9,548.2 942.7,547.8 955.5,547.0 968.3,545.5 981.1,543.6 993.9,541.3 1006.7,538.4 1019.5,535.5 1032.3,532.7 1045.1,530.0 1057.9,527.5 1070.7,526.3 1083.5,527.7 1096.3,530.6 1109.1,534.0 1121.9,536.9 1134.7,539.1 1147.5,540.2 1160.3,540.7 1173.1,540.7"/>
<polyline points="929.9,548.2 942.7,547.9 955.5,547.1 968.3,545.7 981.1,543.8 993.9,541.5 1006.7,538.6 1019.5,535.8 1032.3,532.9 1045.1,530.2 1057.9,527.7 1070.7,526.6 1083.5,527.9 1096.3,530.8 1109.1,534.3 1121.9,537.1 1134.7,539.3 1147.5,540.3 1160.3,540.7 1173.1,540.7"/>
<polyline points="929.9,586.6 942.7,586.7 955.5,587.1 968.3,587.2 981.1,586.1 993.9,585.0 1006.7,584.9 1019.5,585.8 1032.3,588.1 1045.1,591.6 1057.9,595.8 1070.7,600.8 1083.5,605.9 1096.3,611.3 1109.1,616.8 1121.9,622.0 1134.7,626.8 1147.5,631.2 1160.3,634.4 1173.1,636.3"/>
<polyline points="929.9,586.6 942.7,586.9 955.5,587.2 968.3,587.6 981.1,588.5 993.9,589.8 1006.7,591.6 1019.5,593.9 1032.3,596.7 1045.1,600.2 1057.9,604.2 1070.7,608.8 1083.5,613.4 1096.3,618.3 1109.1,622.9 1121.9,627.2 1134.7,630.8 1147.5,633.7 1160.3,635.5 1173.1,636.3"/>
<polyline points="929.9,589.6 942.7,588.7 955.5,588.1 968.3,587.8 981.1,588.7 993.9,590.1 1006.7,591.9 1019.5,594.2 1032.3,597.1 1045.1,600.5 1057.9,604.5 1070.7,609.1 1083.5,613.7 1096.3,618.5 1109.1,623.1 1121.9,627.4 1134.7,630.9 1147.5,633.8 1160.3,635.5 1173.1,636.3"/>
<polyline points="929.9,856.4 942.7,854.4 955.5,849.3 968.3,844.4 981.1,839.2 993.9,835.4 1006.7,832.3 1019.5,829.5 1032.3,826.4 1045.1,824.3 1057.9,822.3 1070.7,819.5 1083.5,816.3 1096.3,813.4 1109.1,810.2 1121.9,807.1 1134.7,804.2 1147.5,802.2 1160.3,801.1 1173.1,801.1"/>
<polyline points="929.9,869.6 942.7,863.3 955.5,857.6 968.3,852.4 981.1,847.8 993.9,844.4 1006.7,840.7 1019.5,837.8 1032.3,835.4 1045.1,832.6 1057.9,829.5 1070.7,826.2 1083.5,822.9 1096.3,819.5 1109.1,815.7 1121.9,811.7 1134.7,807.6 1147.5,804.2 1160.3,801.9 1173.1,801.1"/>
<polyline points="929.9,876.6 942.7,882.4 955.5,893.5 968.3,905.6 981.1,919.5 993.9,934.4 1006.7,950.5 1019.5,966.5 1032.3,972.5 1045.1,975.0 1057.9,978.0 1070.7,980.8 1083.5,984.2 1096.3,988.0 1109.1,992.0 1121.9,996.0 1134.7,999.8 1147.5,1002.9 1160.3,1004.9 1173.1,1005.6"/>
<polyline points="929.9,893.3 942.7,896.7 955.5,906.5 968.3,919.5 981.1,935.5 993.9,951.5 1006.7,969.6 1019.5,974.6 1032.3,987.4 1045.1,996.0 1057.9,995.5 1070.7,995.2 1083.5,995.7 1096.3,996.8 1109.1,998.3 1121.9,1000.1 1134.7,1002.1 1147.5,1003.7 1160.3,1005.0 1173.1,1005.6"/>
<polyline points="929.9,971.4 942.7,971.1 955.5,970.9 968.3,970.7 981.1,970.5 993.9,970.7 1006.7,971.9 1019.5,974.6 1032.3,987.4 1045.1,1005.6 1057.9,1023.5 1070.7,1040.4 1083.5,1056.4 1096.3,1069.6 1109.1,1075.4 1121.9,1077.1 1134.7,1076.7 1147.5,1076.5 1160.3,1076.7 1173.1,1077.7"/>
<polyline points="929.9,971.4 942.7,971.1 955.5,970.9 968.3,970.7 981.1,970.5 993.9,970.7 1006.7,971.9 1019.5,985.4 1032.3,995.5 1045.1,1005.6 1057.9,1023.5 1070.7,1040.4 1083.5,1056.4 1096.3,1069.6 1109.1,1075.4 1121.9,1077.1 1134.7,1076.7 1147.5,1076.5 1160.3,1076.7 1173.1,1077.7"/>
<polyline points="929.9,1015.9 942.7,1015.4 955.5,1014.0 968.3,1011.7 981.1,1009.1 993.9,1006.8 1006.7,1005.0 1019.5,1004.8 1032.3,1014.5 1045.1,1031.7 1057.9,1050.5 1070.7,1070.4 1083.5,1088.3 1096.3,1096.6 1109.1,1097.8 1121.9,1093.7 1134.7,1089.1 1147.5,1084.6 1160.3,1080.5 1173.1,1077.7"/>
<polyline points="929.9,1086.3 942.7,1086.9 955.5,1088.6 968.3,1091.4 981.1,1094.5 993.9,1096.0 1006.7,1096.4 1019.5,1096.4 1032.3,1096.0 1045.1,1095.5 1057.9,1094.7 1070.7,1094.0 1083.5,1093.7 1096.3,1097.2 1109.1,1104.1 1121.9,1115.6 1134.7,1125.3 1147.5,1135.6 1160.3,1146.0 1173.1,1156.3"/>
<polyline points="929.9,1092.6 942.7,1092.9 955.5,1093.7 968.3,1094.5 981.1,1095.5 993.9,1096.0 1006.7,1096.4 1019.5,1096.4 1032.3,1096.0 1045.1,1095.5 1057.9,1094.7 1070.7,1094.0 1083.5,1093.7 1096.3,1099.5 1109.1,1104.1 1121.9,1115.6 1134.7,1125.3 1147.5,1135.6 1160.3,1146.0 1173.1,1156.3"/>
<polyline points="929.9,1092.6 942.7,1092.9 955.5,1093.7 968.3,1094.5 981.1,1095.5 993.9,1097.5 1006.7,1100.6 1019.5,1103.5 1032.3,1105.8 1045.1,1107.2 1057.9,1107.5 1070.7,1106.7 1083.5,1105.2 1096.3,1108.7 1109.1,1122.4 1121.9,1136.8 1134.7,1150.6 1147.5,1164.3 1160.3,1178.1 1173.1,1191.9"/>
<polyline points="1173.1,349.3 1198.8,345.2 1224.4,345.2 1250.1,349.0 1275.8,355.1 1301.5,362.8 1327.1,371.2 1352.8,379.9 1378.5,389.5 1404.2,401.3 1429.8,415.1 1455.5,431.3 1481.2,449.2 1506.9,466.8 1532.5,483.4 1558.2,499.9 1583.9,513.3 1609.6,517.4 1635.2,514.2 1660.9,512.6"/>
<polyline points="1173.1,349.3 1198.8,353.3 1224.4,359.7 1250.1,366.1 1275.8,372.2 1301.5,378.1 1327.1,383.4 1352.8,389.1 1378.5,396.0 1404.2,405.6 1429.8,417.6 1455.5,432.1 1481.2,449.7 1506.9,467.3 1532.5,484.0 1558.2,499.9 1583.9,513.3 1609.6,520.3 1635.2,517.7 1660.9,512.6"/>
<polyline points="1173.1,349.3 1198.8,353.6 1224.4,360.0 1250.1,366.4 1275.8,372.6 1301.5,378.4 1327.1,383.7 1352.8,389.4 1378.5,396.4 1404.2,406.1 1429.8,418.2 1455.5,432.9 1481.2,451.5 1506.9,470.7 1532.5,488.8 1558.2,507.2 1583.9,519.3 1609.6,521.1 1635.2,521.9 1660.9,522.5"/>
<polyline points="1173.1,470.5 1198.8,469.2 1224.4,473.1 1250.1,484.5 1275.8,497.6 1301.5,508.6 1327.1,512.6 1352.8,512.9 1378.5,515.8 1404.2,521.7 1429.8,529.2 1455.5,536.3 1481.2,540.1 1506.9,543.6 1532.5,543.9 1558.2,535.6 1583.9,529.9 1609.6,529.9 1635.2,523.2 1660.9,522.5"/>
<polyline points="1173.1,470.5 1198.8,469.5 1224.4,473.5 1250.1,485.0 1275.8,498.0 1301.5,509.0 1327.1,515.5 1352.8,520.2 1378.5,523.7 1404.2,527.9 1429.8,532.4 1455.5,536.6 1481.2,540.4 1506.9,543.9 1532.5,544.2 1558.2,541.7 1583.9,535.9 1609.6,531.5 1635.2,525.7 1660.9,522.5"/>
<polyline points="1173.1,470.5 1198.8,483.0 1224.4,499.8 1250.1,513.3 1275.8,517.8 1301.5,514.8 1327.1,515.9 1352.8,520.5 1378.5,524.0 1404.2,528.2 1429.8,532.8 1455.5,536.6 1481.2,543.5 1506.9,549.0 1532.5,544.6 1558.2,541.7 1583.9,535.9 1609.6,531.5 1635.2,525.7 1660.9,522.5"/>
<polyline points="1173.1,540.4 1198.8,539.2 1224.4,536.6 1250.1,535.1 1275.8,536.6 1301.5,543.0 1327.1,548.8 1352.8,555.3 1378.5,562.0 1404.2,568.7 1429.8,572.2 1455.5,571.3 1481.2,566.3 1506.9,559.1 1532.5,555.8 1558.2,551.3 1583.9,542.9 1609.6,535.6 1635.2,535.6 1660.9,537.7"/>
<polyline points="1173.1,540.4 1198.8,540.1 1224.4,537.7 1250.1,535.8 1275.8,537.3 1301.5,544.2 1327.1,552.3 1352.8,560.5 1378.5,568.1 1404.2,575.0 1429.8,579.0 1455.5,579.9 1481.2,577.1 1506.9,570.7 1532.5,560.7 1558.2,552.9 1583.9,545.5 1609.6,536.2 1635.2,538.5 1660.9,537.7"/>
<polyline points="1173.1,540.4 1198.8,540.3 1224.4,538.0 1250.1,536.1 1275.8,537.7 1301.5,544.5 1327.1,552.7 1352.8,560.8 1378.5,568.4 1404.2,575.3 1429.8,579.3 1455.5,580.2 1481.2,577.4 1506.9,571.0 1532.5,561.2 1558.2,554.4 1583.9,547.7 1609.6,537.2 1635.2,540.4 1660.9,537.7"/>
<polyline points="1173.1,636.4 1198.8,631.6 1224.4,621.5 1250.1,608.7 1275.8,596.7 1301.5,589.8 1327.1,590.9 1352.8,599.2 1378.5,608.5 1404.2,613.6 1429.8,613.4 1455.5,608.5 1481.2,600.1 1506.9,590.2 1532.5,578.3 1558.2,565.9 1583.9,553.8 1609.6,544.8 1635.2,541.0 1660.9,537.7"/>
<polyline points="1173.1,636.4 1198.8,631.8 1224.4,621.8 1250.1,609.0 1275.8,597.0 1301.5,590.2 1327.1,591.2 1352.8,599.5 1378.5,608.8 1404.2,613.9 1429.8,613.7 1455.5,608.8 1481.2,600.4 1506.9,590.5 1532.5,578.6 1558.2,565.9 1583.9,553.8 1609.6,544.8 1635.2,542.6 1660.9,545.0"/>
<polyline points="1173.1,636.4 1198.8,634.7 1224.4,629.9 1250.1,625.4 1275.8,626.9 1301.5,635.0 1327.1,646.8 1352.8,657.0 1378.5,663.2 1404.2,663.6 1429.8,659.3 1455.5,649.8 1481.2,636.1 1506.9,619.5 1532.5,599.0 1558.2,576.7 1583.9,559.2 1609.6,551.2 1635.2,546.8 1660.9,545.0"/>
<polyline points="1173.1,801.3 1198.8,803.6 1224.4,811.3 1250.1,822.9 1275.8,835.0 1301.5,845.4 1327.1,854.1 1352.8,861.3 1378.5,868.1 1404.2,873.9 1429.8,871.9 1455.5,857.9 1481.2,842.6 1506.9,822.7 1532.5,802.8 1558.2,784.7 1583.9,770.6 1609.6,759.9 1635.2,754.1 1660.9,752.2"/>
<polyline points="1173.1,801.3 1198.8,803.8 1224.4,811.6 1250.1,823.2 1275.8,835.3 1301.5,845.7 1327.1,854.4 1352.8,861.6 1378.5,868.4 1404.2,874.2 1429.8,872.2 1455.5,858.2 1481.2,842.9 1506.9,823.0 1532.5,803.1 1558.2,785.0 1583.9,770.8 1609.6,760.1 1635.2,754.2 1660.9,752.2"/>
<polyline points="1173.1,801.3 1198.8,804.4 1224.4,812.8 1250.1,825.1 1275.8,838.1 1301.5,850.5 1327.1,861.2 1352.8,869.4 1378.5,875.1 1404.2,877.0 1429.8,873.9 1455.5,861.7 1481.2,845.6 1506.9,835.7 1532.5,828.6 1558.2,824.9 1583.9,826.5 1609.6,831.5 1635.2,836.7 1660.9,840.3"/>
<polyline points="1173.1,1005.3 1198.8,1001.0 1224.4,991.8 1250.1,980.8 1275.8,968.1 1301.5,955.1 1327.1,937.5 1352.8,920.7 1378.5,903.8 1404.2,887.7 1429.8,877.0 1455.5,873.9 1481.2,869.3 1506.9,863.7 1532.5,860.6 1558.2,859.4 1583.9,859.7 1609.6,860.6 1635.2,861.7 1660.9,862.1"/>
<polyline points="1173.1,1005.3 1198.8,1004.1 1224.4,998.7 1250.1,987.2 1275.8,971.9 1301.5,955.9 1327.1,943.2 1352.8,932.4 1378.5,923.0 1404.2,914.5 1429.8,908.7 1455.5,906.1 1481.2,905.8 1506.9,907.3 1532.5,910.4 1558.2,914.5 1583.9,919.1 1609.6,923.7 1635.2,927.9 1660.9,930.3"/>
<polyline points="1173.1,1077.6 1198.8,1072.2 1224.4,1071.1 1250.1,1074.2 1275.8,1078.3 1301.5,1067.6 1327.1,1043.1 1352.8,1019.1 1378.5,997.2 1404.2,981.1 1429.8,971.9 1455.5,971.9 1481.2,979.1 1506.9,988.8 1532.5,988.0 1558.2,966.6 1583.9,950.2 1609.6,937.5 1635.2,932.1 1660.9,930.6"/>
<polyline points="1173.1,1077.6 1198.8,1082.9 1224.4,1090.6 1250.1,1095.6 1275.8,1089.5 1301.5,1070.2 1327.1,1047.2 1352.8,1025.5 1378.5,1004.4 1404.2,988.5 1429.8,978.5 1455.5,977.3 1481.2,983.4 1506.9,992.6 1532.5,989.5 1558.2,968.9 1583.9,952.5 1609.6,940.1 1635.2,933.4 1660.9,931.1"/>
<polyline points="1173.1,1171.4 1198.8,1150.0 1224.4,1128.5 1250.1,1115.8 1275.8,1093.6 1301.5,1082.9 1327.1,1085.5 1352.8,1086.0 1378.5,1082.9 1404.2,1077.2 1429.8,1067.6 1455.5,1053.8 1481.2,1035.5 1506.9,1013.3 1532.5,1002.6 1558.2,995.2 1583.9,973.5 1609.6,953.6 1635.2,938.3 1660.9,932.1"/>
<polyline points="1173.1,1177.2 1198.8,1154.1 1224.4,1131.0 1250.1,1118.1 1275.8,1110.0 1301.5,1108.2 1327.1,1108.2 1352.8,1108.5 1378.5,1108.5 1404.2,1105.9 1429.8,1094.1 1455.5,1068.4 1481.2,1040.8 1506.9,1014.0 1532.5,1003.3 1558.2,1014.0 1583.9,1022.1 1609.6,1028.3 1635.2,1032.1 1660.9,1030.6"/>
<polyline points="1173.1,1189.3 1198.8,1183.2 1224.4,1177.0 1250.1,1170.9 1275.8,1164.8 1301.5,1158.7 1327.1,1152.6 1352.8,1146.4 1378.5,1140.3 1404.2,1132.7 1429.8,1121.9 1455.5,1089.0 1481.2,1062.2 1506.9,1038.5 1532.5,1017.1 1558.2,1014.5 1583.9,1022.8 1609.6,1028.9 1635.2,1032.6 1660.9,1030.9"/>
<polyline points="1173.1,1438.8 1198.8,1412.8 1224.4,1386.7 1250.1,1360.7 1275.8,1334.7 1301.5,1305.6 1327.1,1267.3 1352.8,1229.1 1378.5,1190.8 1404.2,1155.6 1429.8,1122.7 1455.5,1114.3 1481.2,1104.3 1506.9,1092.6 1532.5,1079.1 1558.2,1065.3 1583.9,1051.5 1609.6,1040.1 1635.2,1033.5 1660.9,1035.0"/>
<polyline points="1173.1,1449.5 1198.8,1423.5 1224.4,1397.5 1250.1,1371.4 1275.8,1343.9 1301.5,1308.7 1327.1,1282.7 1352.8,1256.6 1378.5,1230.6 1404.2,1204.6 1429.8,1178.6 1455.5,1155.6 1481.2,1132.7 1506.9,1115.8 1532.5,1095.6 1558.2,1076.8 1583.9,1059.2 1609.6,1045.4 1635.2,1037.0 1660.9,1035.0"/>
<polyline points="1173.1,1496.9 1198.8,1458.7 1224.4,1420.4 1250.1,1382.1 1275.8,1345.4 1301.5,1319.4 1327.1,1293.4 1352.8,1267.3 1378.5,1241.3 1404.2,1215.3 1429.8,1189.3 1455.5,1164.8 1481.2,1141.8 1506.9,1121.9 1532.5,1100.8 1558.2,1079.8 1583.9,1061.5 1609.6,1047.2 1635.2,1037.8 1660.9,1035.3"/>
</g>
<g fill="none" stroke="#008000">
<circle cx="508.0" cy="512.6" r="2.6" class="f"/>
<circle cx="530.2" cy="513.4" r="2.6" class="f"/>
<circle cx="552.4" cy="516.1" r="2.6" class="f"/>
<circle cx="574.6" cy="516.5" r="2.6" class="f"/>
<circle cx="596.8" cy="506.1" r="2.6" class="f"/>
<circle cx="619.0" cy="493.3" r="2.6" class="f"/>
<circle cx="641.2" cy="479.5" r="2.6" class="f"/>
<circle cx="663.4" cy="466.1" r="2.6" class="f"/>
<circle cx="685.6" cy="453.3" r="2.6" class="f"/>
<circle cx="707.8" cy="441.2" r="2.6" class="f"/>
<circle cx="730.1" cy="429.7" r="2.6" class="f"/>
<circle cx="752.3" cy="419.2" r="2.6" class="f"/>
<circle cx="774.5" cy="410.2" r="2.6" class="f"/>
<circle cx="796.7" cy="402.6" r="2.6" class="f"/>
<circle cx="818.9" cy="396.1" r="2.6" class="f"/>
<circle cx="841.1" cy="390.9" r="2.6" class="f"/>
<circle cx="863.3" cy="386.9" r="2.6" class="f"/>
<circle cx="885.5" cy="384.2" r="2.6" class="f"/>
<circle cx="907.7" cy="382.9" r="2.6" class="f"/>
<circle cx="929.9" cy="382.5" r="2.6" class="f"/>
<circle cx="508.0" cy="512.6" r="2.6" class="f"/>
<circle cx="530.2" cy="516.5" r="2.6" class="f"/>
<circle cx="552.4" cy="520.7" r="2.6" class="f"/>
<circle cx="574.6" cy="518.0" r="2.6" class="f"/>
<circle cx="596.8" cy="510.7" r="2.6" class="f"/>
<circle cx="619.0" cy="499.6" r="2.6" class="f"/>
<circle cx="641.2" cy="487.1" r="2.6" class="f"/>
<circle cx="663.4" cy="475.7" r="2.6" class="f"/>
<circle cx="685.6" cy="465.1" r="2.6" class="f"/>
<circle cx="707.8" cy="455.6" r="2.6" class="f"/>
<circle cx="730.1" cy="447.0" r="2.6" class="f"/>
<circle cx="752.3" cy="439.7" r="2.6" class="f"/>
<circle cx="774.5" cy="433.6" r="2.6" class="f"/>
<circle cx="796.7" cy="428.2" r="2.6" class="f"/>
<circle cx="818.9" cy="424.4" r="2.6" class="f"/>
<circle cx="841.1" cy="421.5" r="2.6" class="f"/>
<circle cx="863.3" cy="419.6" r="2.6" class="f"/>
<circle cx="885.5" cy="418.3" r="2.6" class="f"/>
<circle cx="907.7" cy="417.5" r="2.6" class="f"/>
<circle cx="929.9" cy="417.3" r="2.6" class="f"/>
<circle cx="508.0" cy="522.6" r="2.6" class="f"/>
<circle cx="530.2" cy="520.8" r="2.6" class="f"/>
<circle cx="552.4" cy="524.3" r="2.6" class="f"/>
<circle cx="574.6" cy="519.5" r="2.6" class="f"/>
<circle cx="596.8" cy="516.1" r="2.6" class="f"/>
<circle cx="619.0" cy="504.4" r="2.6" class="f"/>
<circle cx="641.2" cy="492.9" r="2.6" class="f"/>
<circle cx="663.4" cy="481.4" r="2.6" class="f"/>
<circle cx="685.6" cy="469.9" r="2.6" class="f"/>
<circle cx="707.8" cy="459.4" r="2.6" class="f"/>
<circle cx="730.1" cy="449.8" r="2.6" class="f"/>
<circle cx="752.3" cy="441.6" r="2.6" class="f"/>
<circle cx="774.5" cy="434.9" r="2.6" class="f"/>
<circle cx="796.7" cy="429.4" r="2.6" class="f"/>
<circle cx="818.9" cy="425.3" r="2.6" class="f"/>
<circle cx="841.1" cy="422.1" r="2.6" class="f"/>
<circle cx="863.3" cy="420.0" r="2.6" class="f"/>
<circle cx="885.5" cy="418.5" r="2.6" class="f"/>
<circle cx="907.7" cy="417.7" r="2.6" class="f"/>
<circle cx="929.9" cy="417.3" r="2.6" class="f"/>
<circle cx="508.0" cy="537.7" r="2.6" class="f"/>
<circle cx="530.2" cy="536.0" r="2.6" class="f"/>
<circle cx="552.4" cy="535.2" r="2.6" class="f"/>
<circle cx="574.6" cy="539.8" r="2.6" class="f"/>
<circle cx="596.8" cy="545.9" r="2.6" class="f"/>
<circle cx="619.0" cy="545.9" r="2.6" class="f"/>
<circle cx="641.2" cy="547.4" r="2.6" class="f"/>
<circle cx="663.4" cy="557.0" r="2.6" class="f"/>
<circle cx="685.6" cy="566.2" r="2.6" class="f"/>
<circle cx="707.8" cy="574.8" r="2.6" class="f"/>
<circle cx="730.1" cy="579.3" r="2.6" class="f"/>
<circle cx="752.3" cy="582.8" r="2.6" class="f"/>
<circle cx="774.5" cy="588.6" r="2.6" class="f"/>
<circle cx="796.7" cy="590.5" r="2.6" class="f"/>
<circle cx="818.9" cy="591.0" r="2.6" class="f"/>
<circle cx="841.1" cy="590.2" r="2.6" class="f"/>
<circle cx="863.3" cy="588.9" r="2.6" class="f"/>
<circle cx="885.5" cy="587.6" r="2.6" class="f"/>
<circle cx="907.7" cy="586.6" r="2.6" class="f"/>
<circle cx="929.9" cy="586.3" r="2.6" class="f"/>
<circle cx="508.0" cy="544.8" r="2.6" class="f"/>
<circle cx="530.2" cy="543.5" r="2.6" class="f"/>
<circle cx="552.4" cy="544.0" r="2.6" class="f"/>
<circle cx="574.6" cy="549.7" r="2.6" class="f"/>
<circle cx="596.8" cy="558.9" r="2.6" class="f"/>
<circle cx="619.0" cy="568.1" r="2.6" class="f"/>
<circle cx="641.2" cy="576.8" r="2.6" class="f"/>
<circle cx="663.4" cy="583.8" r="2.6" class="f"/>
<circle cx="685.6" cy="587.0" r="2.6" class="f"/>
<circle cx="707.8" cy="589.5" r="2.6" class="f"/>
<circle cx="730.1" cy="595.9" r="2.6" class="f"/>
<circle cx="752.3" cy="599.7" r="2.6" class="f"/>
<circle cx="774.5" cy="601.6" r="2.6" class="f"/>
<circle cx="796.7" cy="602.0" r="2.6" class="f"/>
<circle cx="818.9" cy="600.4" r="2.6" class="f"/>
<circle cx="841.1" cy="597.8" r="2.6" class="f"/>
<circle cx="863.3" cy="594.6" r="2.6" class="f"/>
<circle cx="885.5" cy="592.1" r="2.6" class="f"/>
<circle cx="907.7" cy="590.4" r="2.6" class="f"/>
<circle cx="929.9" cy="589.5" r="2.6" class="f"/>
<circle cx="508.0" cy="522.6" r="2.6" class="f"/>
<circle cx="530.2" cy="522.5" r="2.6" class="f"/>
<circle cx="552.4" cy="525.6" r="2.6" class="f"/>
<circle cx="574.6" cy="532.9" r="2.6" class="f"/>
<circle cx="596.8" cy="533.4" r="2.6" class="f"/>
<circle cx="508.0" cy="537.7" r="2.6" class="f"/>
<circle cx="530.2" cy="538.5" r="2.6" class="f"/>
<circle cx="552.4" cy="540.6" r="2.6" class="f"/>
<circle cx="574.6" cy="543.0" r="2.6" class="f"/>
<circle cx="596.8" cy="549.0" r="2.6" class="f"/>
<circle cx="508.0" cy="537.7" r="2.6" class="f"/>
<circle cx="530.2" cy="539.4" r="2.6" class="f"/>
<circle cx="552.4" cy="541.5" r="2.6" class="f"/>
<circle cx="574.6" cy="546.7" r="2.6" class="f"/>
<circle cx="619.0" cy="539.8" r="1.9" stroke-width="0.30"/>
<circle cx="641.2" cy="539.8" r="1.9" stroke-width="0.30"/>
<circle cx="663.4" cy="528.9" r="1.9" stroke-width="0.30"/>
<circle cx="685.6" cy="513.9" r="1.9" stroke-width="0.30"/>
<circle cx="707.8" cy="498.2" r="1.9" stroke-width="0.30"/>
<circle cx="730.1" cy="482.9" r="1.9" stroke-width="0.30"/>
<circle cx="752.3" cy="468.0" r="1.9" stroke-width="0.30"/>
<circle cx="774.5" cy="454.6" r="1.9" stroke-width="0.30"/>
<circle cx="796.7" cy="443.1" r="1.9" stroke-width="0.30"/>
<circle cx="818.9" cy="434.5" r="1.9" stroke-width="0.30"/>
<circle cx="841.1" cy="428.8" r="1.9" stroke-width="0.30"/>
<circle cx="619.0" cy="543.6" r="1.9" stroke-width="0.30"/>
<circle cx="641.2" cy="543.6" r="1.9" stroke-width="0.30"/>
<circle cx="663.4" cy="539.2" r="1.9" stroke-width="0.30"/>
<circle cx="685.6" cy="532.5" r="1.9" stroke-width="0.30"/>
<circle cx="707.8" cy="522.0" r="1.9" stroke-width="0.30"/>
<circle cx="730.1" cy="512.4" r="1.9" stroke-width="0.30"/>
<circle cx="752.3" cy="501.1" r="1.9" stroke-width="0.30"/>
<circle cx="774.5" cy="489.6" r="1.9" stroke-width="0.30"/>
<circle cx="796.7" cy="477.6" r="1.9" stroke-width="0.30"/>
<circle cx="818.9" cy="466.1" r="1.9" stroke-width="0.30"/>
<circle cx="841.1" cy="455.6" r="1.9" stroke-width="0.30"/>
<circle cx="619.0" cy="544.4" r="1.9" stroke-width="0.30"/>
<circle cx="641.2" cy="544.2" r="1.9" stroke-width="0.30"/>
<circle cx="663.4" cy="539.9" r="1.9" stroke-width="0.30"/>
<circle cx="685.6" cy="533.1" r="1.9" stroke-width="0.30"/>
<circle cx="707.8" cy="522.7" r="1.9" stroke-width="0.30"/>
<circle cx="730.1" cy="513.9" r="1.9" stroke-width="0.30"/>
<circle cx="752.3" cy="504.7" r="1.9" stroke-width="0.30"/>
<circle cx="774.5" cy="494.8" r="1.9" stroke-width="0.30"/>
<circle cx="796.7" cy="484.3" r="1.9" stroke-width="0.30"/>
<circle cx="818.9" cy="475.7" r="1.9" stroke-width="0.30"/>
<circle cx="841.1" cy="469.5" r="1.9" stroke-width="0.30"/>
<circle cx="1173.1" cy="349.1" r="1.75" stroke-width="1.90"/>
<circle cx="1173.1" cy="470.7" r="2.6" class="f"/>
<circle cx="1173.1" cy="540.7" r="2.6" class="f"/>
<circle cx="1173.1" cy="636.3" r="1.9" stroke-width="1.00"/>
<circle cx="1660.9" cy="512.6" r="2.6" class="f"/>
<circle cx="1660.9" cy="522.5" r="2.6" class="f"/>
<circle cx="1660.9" cy="537.7" r="2.6" class="f"/>
<circle cx="1660.9" cy="545.0" r="2.6" class="f"/>
<circle cx="1635.2" cy="514.2" r="2.6" class="f"/>
<circle cx="1532.5" cy="560.7" r="1.75" stroke-width="1.90"/>
<circle cx="1532.5" cy="599.0" r="1.75" stroke-width="2.30"/>
<circle cx="508.0" cy="840.0" r="1.75" stroke-width="1.70"/>
<circle cx="530.2" cy="838.1" r="1.75" stroke-width="1.70"/>
<circle cx="552.4" cy="832.9" r="1.75" stroke-width="1.70"/>
<circle cx="574.6" cy="828.1" r="1.75" stroke-width="1.70"/>
<circle cx="596.8" cy="827.0" r="1.75" stroke-width="1.70"/>
<circle cx="619.0" cy="829.5" r="1.75" stroke-width="1.70"/>
<circle cx="641.2" cy="837.1" r="1.75" stroke-width="1.70"/>
<circle cx="663.4" cy="847.1" r="1.75" stroke-width="1.70"/>
<circle cx="685.6" cy="858.6" r="1.75" stroke-width="1.70"/>
<circle cx="707.8" cy="869.3" r="1.75" stroke-width="1.70"/>
<circle cx="730.1" cy="880.2" r="1.9" stroke-width="0.50"/>
<circle cx="752.3" cy="889.8" r="1.9" stroke-width="0.47"/>
<circle cx="774.5" cy="897.4" r="1.9" stroke-width="0.43"/>
<circle cx="796.7" cy="902.2" r="1.9" stroke-width="0.40"/>
<circle cx="663.4" cy="866.8" r="1.9" stroke-width="0.40"/>
<circle cx="685.6" cy="875.4" r="1.9" stroke-width="0.40"/>
<circle cx="707.8" cy="886.9" r="1.9" stroke-width="0.40"/>
<circle cx="730.1" cy="899.3" r="1.9" stroke-width="0.40"/>
<circle cx="752.3" cy="911.4" r="1.9" stroke-width="0.40"/>
<circle cx="530.2" cy="928.0" r="1.75" stroke-width="1.90"/>
<circle cx="552.4" cy="924.2" r="1.75" stroke-width="1.85"/>
<circle cx="574.6" cy="920.9" r="1.75" stroke-width="1.80"/>
<circle cx="596.8" cy="918.5" r="1.75" stroke-width="1.75"/>
<circle cx="619.0" cy="917.1" r="1.75" stroke-width="1.70"/>
<circle cx="641.2" cy="918.5" r="1.9" stroke-width="1.15"/>
<circle cx="663.4" cy="922.3" r="1.9" stroke-width="1.10"/>
<circle cx="685.6" cy="928.0" r="1.9" stroke-width="1.05"/>
<circle cx="707.8" cy="935.7" r="1.9" stroke-width="1.00"/>
<circle cx="730.1" cy="943.9" r="1.9" stroke-width="0.95"/>
<circle cx="752.3" cy="951.9" r="1.9" stroke-width="0.90"/>
<circle cx="774.5" cy="959.6" r="1.9" stroke-width="0.85"/>
<circle cx="796.7" cy="967.2" r="1.9" stroke-width="0.80"/>
<circle cx="818.9" cy="972.0" r="1.9" stroke-width="0.75"/>
<circle cx="841.1" cy="974.9" r="1.9" stroke-width="0.70"/>
<circle cx="863.3" cy="976.2" r="1.9" stroke-width="0.65"/>
<circle cx="885.5" cy="975.9" r="1.9" stroke-width="0.60"/>
<circle cx="907.7" cy="974.3" r="1.9" stroke-width="0.55"/>
<circle cx="929.9" cy="972.0" r="1.9" stroke-width="0.50"/>
<circle cx="530.2" cy="929.0" r="1.75" stroke-width="1.90"/>
<circle cx="552.4" cy="926.7" r="1.75" stroke-width="1.85"/>
<circle cx="574.6" cy="924.8" r="1.75" stroke-width="1.80"/>
<circle cx="596.8" cy="923.2" r="1.75" stroke-width="1.75"/>
<circle cx="619.0" cy="924.2" r="1.75" stroke-width="1.70"/>
<circle cx="641.2" cy="927.4" r="1.9" stroke-width="1.15"/>
<circle cx="663.4" cy="933.8" r="1.9" stroke-width="1.10"/>
<circle cx="685.6" cy="942.4" r="1.9" stroke-width="1.05"/>
<circle cx="707.8" cy="952.3" r="1.9" stroke-width="1.00"/>
<circle cx="730.1" cy="963.0" r="1.9" stroke-width="0.95"/>
<circle cx="752.3" cy="973.9" r="1.9" stroke-width="0.90"/>
<circle cx="774.5" cy="984.5" r="1.9" stroke-width="0.85"/>
<circle cx="796.7" cy="993.6" r="1.9" stroke-width="0.80"/>
<circle cx="818.9" cy="1000.7" r="1.9" stroke-width="0.75"/>
<circle cx="841.1" cy="1006.5" r="1.9" stroke-width="0.70"/>
<circle cx="863.3" cy="1010.9" r="1.9" stroke-width="0.65"/>
<circle cx="885.5" cy="1013.5" r="1.9" stroke-width="0.60"/>
<circle cx="907.7" cy="1015.1" r="1.9" stroke-width="0.55"/>
<circle cx="929.9" cy="1015.5" r="1.9" stroke-width="0.50"/>
<circle cx="508.0" cy="930.5" r="2.6" class="f"/>
<circle cx="530.2" cy="932.1" r="2.6" class="f"/>
<circle cx="552.4" cy="935.9" r="2.6" class="f"/>
<circle cx="574.6" cy="943.0" r="2.6" class="f"/>
<circle cx="596.8" cy="951.9" r="2.6" class="f"/>
<circle cx="619.0" cy="962.7" r="2.6" class="f"/>
<circle cx="641.2" cy="975.1" r="2.6" class="f"/>
<circle cx="663.4" cy="983.4" r="2.6" class="f"/>
<circle cx="685.6" cy="974.2" r="2.6" class="f"/>
<circle cx="707.8" cy="959.5" r="2.6" class="f"/>
<circle cx="730.1" cy="945.5" r="2.6" class="f"/>
<circle cx="752.3" cy="933.4" r="2.6" class="f"/>
<circle cx="774.5" cy="921.3" r="2.6" class="f"/>
<circle cx="796.7" cy="909.5" r="2.6" class="f"/>
<circle cx="818.9" cy="900.3" r="2.6" class="f"/>
<circle cx="841.1" cy="890.7" r="2.6" class="f"/>
<circle cx="863.3" cy="884.0" r="2.6" class="f"/>
<circle cx="885.5" cy="880.2" r="2.6" class="f"/>
<circle cx="907.7" cy="875.0" r="2.6" class="f"/>
<circle cx="929.9" cy="869.7" r="2.6" class="f"/>
<circle cx="508.0" cy="930.5" r="2.6" class="f"/>
<circle cx="530.2" cy="933.0" r="2.6" class="f"/>
<circle cx="552.4" cy="937.9" r="2.6" class="f"/>
<circle cx="574.6" cy="944.9" r="2.6" class="f"/>
<circle cx="596.8" cy="954.4" r="2.6" class="f"/>
<circle cx="619.0" cy="965.3" r="2.6" class="f"/>
<circle cx="641.2" cy="978.0" r="2.6" class="f"/>
<circle cx="663.4" cy="984.8" r="2.6" class="f"/>
<circle cx="685.6" cy="975.2" r="2.6" class="f"/>
<circle cx="707.8" cy="960.5" r="2.6" class="f"/>
<circle cx="730.1" cy="946.2" r="2.6" class="f"/>
<circle cx="752.3" cy="934.0" r="2.6" class="f"/>
<circle cx="774.5" cy="922.0" r="2.6" class="f"/>
<circle cx="796.7" cy="910.2" r="2.6" class="f"/>
<circle cx="818.9" cy="900.9" r="2.6" class="f"/>
<circle cx="841.1" cy="891.3" r="2.6" class="f"/>
<circle cx="863.3" cy="884.6" r="2.6" class="f"/>
<circle cx="885.5" cy="880.6" r="2.6" class="f"/>
<circle cx="907.7" cy="875.4" r="2.6" class="f"/>
<circle cx="929.9" cy="869.7" r="2.6" class="f"/>
<circle cx="508.0" cy="930.5" r="2.6" class="f"/>
<circle cx="530.2" cy="933.5" r="2.6" class="f"/>
<circle cx="552.4" cy="938.8" r="2.6" class="f"/>
<circle cx="574.6" cy="946.1" r="2.6" class="f"/>
<circle cx="596.8" cy="955.7" r="2.6" class="f"/>
<circle cx="619.0" cy="966.6" r="2.6" class="f"/>
<circle cx="641.2" cy="979.9" r="2.6" class="f"/>
<circle cx="663.4" cy="986.3" r="2.6" class="f"/>
<circle cx="685.6" cy="978.7" r="2.6" class="f"/>
<circle cx="707.8" cy="964.6" r="2.6" class="f"/>
<circle cx="730.1" cy="953.4" r="2.6" class="f"/>
<circle cx="752.3" cy="941.7" r="2.6" class="f"/>
<circle cx="774.5" cy="929.9" r="2.6" class="f"/>
<circle cx="796.7" cy="919.4" r="2.6" class="f"/>
<circle cx="818.9" cy="910.8" r="2.6" class="f"/>
<circle cx="841.1" cy="904.1" r="2.6" class="f"/>
<circle cx="863.3" cy="898.4" r="2.6" class="f"/>
<circle cx="885.5" cy="895.1" r="2.6" class="f"/>
<circle cx="907.7" cy="893.2" r="2.6" class="f"/>
<circle cx="929.9" cy="892.6" r="2.6" class="f"/>
<circle cx="508.0" cy="1030.9" r="2.6" class="f"/>
<circle cx="530.2" cy="1033.2" r="2.6" class="f"/>
<circle cx="552.4" cy="1030.9" r="2.6" class="f"/>
<circle cx="574.6" cy="1026.1" r="2.6" class="f"/>
<circle cx="596.8" cy="1019.0" r="2.6" class="f"/>
<circle cx="619.0" cy="1009.8" r="2.6" class="f"/>
<circle cx="641.2" cy="1000.3" r="2.6" class="f"/>
<circle cx="663.4" cy="992.0" r="2.6" class="f"/>
<circle cx="685.6" cy="1001.6" r="2.6" class="f"/>
<circle cx="707.8" cy="1013.7" r="2.6" class="f"/>
<circle cx="730.1" cy="1025.1" r="2.6" class="f"/>
<circle cx="752.3" cy="1036.6" r="2.6" class="f"/>
<circle cx="774.5" cy="1047.1" r="2.6" class="f"/>
<circle cx="796.7" cy="1056.7" r="2.6" class="f"/>
<circle cx="818.9" cy="1065.3" r="2.6" class="f"/>
<circle cx="841.1" cy="1072.0" r="2.6" class="f"/>
<circle cx="863.3" cy="1077.4" r="2.6" class="f"/>
<circle cx="885.5" cy="1081.6" r="2.6" class="f"/>
<circle cx="907.7" cy="1084.5" r="2.6" class="f"/>
<circle cx="929.9" cy="1085.8" r="2.6" class="f"/>
<circle cx="508.0" cy="1034.7" r="2.6" class="f"/>
<circle cx="530.2" cy="1033.7" r="2.6" class="f"/>
<circle cx="552.4" cy="1031.5" r="2.6" class="f"/>
<circle cx="574.6" cy="1026.7" r="2.6" class="f"/>
<circle cx="596.8" cy="1019.8" r="2.6" class="f"/>
<circle cx="619.0" cy="1010.8" r="2.6" class="f"/>
<circle cx="641.2" cy="1001.6" r="2.6" class="f"/>
<circle cx="663.4" cy="995.5" r="2.6" class="f"/>
<circle cx="685.6" cy="1006.0" r="2.6" class="f"/>
<circle cx="707.8" cy="1018.4" r="2.6" class="f"/>
<circle cx="730.1" cy="1030.9" r="2.6" class="f"/>
<circle cx="752.3" cy="1042.4" r="2.6" class="f"/>
<circle cx="774.5" cy="1052.9" r="2.6" class="f"/>
<circle cx="796.7" cy="1062.4" r="2.6" class="f"/>
<circle cx="818.9" cy="1071.1" r="2.6" class="f"/>
<circle cx="841.1" cy="1078.1" r="2.6" class="f"/>
<circle cx="863.3" cy="1083.9" r="2.6" class="f"/>
<circle cx="885.5" cy="1088.3" r="2.6" class="f"/>
<circle cx="907.7" cy="1091.1" r="2.6" class="f"/>
<circle cx="929.9" cy="1092.5" r="2.6" class="f"/>
<circle cx="530.2" cy="1035.7" r="1.9" stroke-width="0.80"/>
<circle cx="552.4" cy="1038.5" r="1.9" stroke-width="0.80"/>
<circle cx="574.6" cy="1047.5" r="1.9" stroke-width="0.80"/>
<circle cx="596.8" cy="1058.4" r="1.9" stroke-width="0.80"/>
<circle cx="574.6" cy="965.8" r="1.9" stroke-width="0.30"/>
<circle cx="596.8" cy="985.5" r="1.9" stroke-width="0.30"/>
<circle cx="619.0" cy="1007.0" r="1.9" stroke-width="0.30"/>
<circle cx="641.2" cy="1029.5" r="1.9" stroke-width="0.30"/>
<circle cx="663.4" cy="1052.9" r="1.9" stroke-width="0.30"/>
<circle cx="685.6" cy="1076.2" r="1.9" stroke-width="0.30"/>
<circle cx="942.7" cy="971.1" r="1.9" stroke-width="0.90"/>
<circle cx="955.5" cy="970.9" r="1.9" stroke-width="0.90"/>
<circle cx="968.3" cy="970.7" r="1.9" stroke-width="0.90"/>
<circle cx="981.1" cy="970.5" r="1.9" stroke-width="0.90"/>
<circle cx="993.9" cy="970.7" r="1.9" stroke-width="0.90"/>
<circle cx="1006.7" cy="971.9" r="1.9" stroke-width="0.90"/>
<circle cx="1032.3" cy="972.5" r="1.9" stroke-width="0.90"/>
<circle cx="1045.1" cy="975.0" r="1.9" stroke-width="0.90"/>
<circle cx="1057.9" cy="978.0" r="1.9" stroke-width="0.90"/>
<circle cx="1070.7" cy="980.8" r="1.9" stroke-width="0.90"/>
<circle cx="1083.5" cy="984.2" r="1.9" stroke-width="0.90"/>
<circle cx="1096.3" cy="988.0" r="1.9" stroke-width="0.90"/>
<circle cx="1109.1" cy="992.0" r="1.9" stroke-width="0.90"/>
<circle cx="1121.9" cy="996.0" r="1.9" stroke-width="0.90"/>
<circle cx="1134.7" cy="999.8" r="1.9" stroke-width="0.90"/>
<circle cx="1147.5" cy="1002.9" r="1.9" stroke-width="0.90"/>
<circle cx="1160.3" cy="1004.9" r="1.9" stroke-width="0.90"/>
<circle cx="1173.1" cy="1005.6" r="1.9" stroke-width="0.90"/>
<circle cx="1045.1" cy="996.0" r="1.9" stroke-width="0.90"/>
<circle cx="1057.9" cy="995.5" r="1.9" stroke-width="0.90"/>
<circle cx="1070.7" cy="995.2" r="1.9" stroke-width="0.90"/>
<circle cx="1083.5" cy="995.7" r="1.9" stroke-width="0.90"/>
<circle cx="1096.3" cy="996.8" r="1.9" stroke-width="0.90"/>
<circle cx="1109.1" cy="998.3" r="1.9" stroke-width="0.90"/>
<circle cx="1121.9" cy="1000.1" r="1.9" stroke-width="0.90"/>
<circle cx="1134.7" cy="1002.1" r="1.9" stroke-width="0.90"/>
<circle cx="1147.5" cy="1003.7" r="1.9" stroke-width="0.90"/>
<circle cx="1160.3" cy="1005.0" r="1.9" stroke-width="0.90"/>
<circle cx="1173.1" cy="1005.6" r="1.9" stroke-width="0.90"/>
<circle cx="942.7" cy="1015.4" r="1.9" stroke-width="0.70"/>
<circle cx="955.5" cy="1014.0" r="1.9" stroke-width="0.70"/>
<circle cx="968.3" cy="1011.7" r="1.9" stroke-width="0.70"/>
<circle cx="981.1" cy="1009.1" r="1.9" stroke-width="0.70"/>
<circle cx="993.9" cy="1006.8" r="1.9" stroke-width="0.70"/>
<circle cx="1006.7" cy="1005.0" r="1.9" stroke-width="0.70"/>
<circle cx="1019.5" cy="1004.8" r="1.9" stroke-width="0.70"/>
<circle cx="981.1" cy="1094.5" r="1.9" stroke-width="1.00"/>
<circle cx="993.9" cy="1097.5" r="1.9" stroke-width="1.00"/>
<circle cx="1006.7" cy="1100.6" r="1.9" stroke-width="1.00"/>
<circle cx="1019.5" cy="1103.5" r="1.9" stroke-width="1.00"/>
<circle cx="1032.3" cy="1105.8" r="1.9" stroke-width="1.00"/>
<circle cx="1045.1" cy="1107.2" r="1.9" stroke-width="1.00"/>
<circle cx="1057.9" cy="1107.5" r="1.9" stroke-width="1.00"/>
<circle cx="1070.7" cy="1106.7" r="1.9" stroke-width="1.00"/>
<circle cx="1083.5" cy="1105.2" r="1.9" stroke-width="1.00"/>
<circle cx="993.9" cy="1096.0" r="1.75" stroke-width="1.90"/>
<circle cx="1006.7" cy="1096.4" r="1.75" stroke-width="1.90"/>
<circle cx="1019.5" cy="1096.4" r="1.75" stroke-width="1.90"/>
<circle cx="1032.3" cy="1096.0" r="1.75" stroke-width="1.90"/>
<circle cx="1045.1" cy="1095.5" r="1.75" stroke-width="1.90"/>
<circle cx="1057.9" cy="1094.7" r="1.75" stroke-width="1.90"/>
<circle cx="1070.7" cy="1094.0" r="1.75" stroke-width="1.90"/>
<circle cx="1083.5" cy="1093.7" r="1.75" stroke-width="1.90"/>
<circle cx="1096.3" cy="1096.6" r="1.75" stroke-width="2.30"/>
<circle cx="1109.1" cy="1097.8" r="1.75" stroke-width="2.38"/>
<circle cx="1121.9" cy="1093.7" r="1.75" stroke-width="2.46"/>
<circle cx="1134.7" cy="1089.1" r="2.6" class="f"/>
<circle cx="1147.5" cy="1084.6" r="2.6" class="f"/>
<circle cx="1160.3" cy="1080.5" r="2.6" class="f"/>
<circle cx="1173.1" cy="1077.7" r="4.60" class="f"/>
<circle cx="1109.1" cy="1075.4" r="2.6" class="f"/>
<circle cx="1121.9" cy="1077.1" r="2.6" class="f"/>
<circle cx="1134.7" cy="1076.7" r="2.6" class="f"/>
<circle cx="1147.5" cy="1076.5" r="2.6" class="f"/>
<circle cx="1160.3" cy="1076.7" r="2.6" class="f"/>
<circle cx="1096.3" cy="1099.5" r="1.75" stroke-width="1.90"/>
<circle cx="1109.1" cy="1104.1" r="1.75" stroke-width="1.90"/>
<circle cx="1121.9" cy="1115.6" r="1.75" stroke-width="1.90"/>
<circle cx="1134.7" cy="1125.3" r="1.75" stroke-width="1.90"/>
<circle cx="1173.1" cy="801.1" r="1.9" stroke-width="1.00"/>
<circle cx="1198.8" cy="1004.1" r="1.9" stroke-width="1.00"/>
<circle cx="1224.4" cy="998.7" r="1.75" stroke-width="1.80"/>
<circle cx="1250.1" cy="987.2" r="1.75" stroke-width="2.10"/>
<circle cx="1275.8" cy="971.9" r="1.75" stroke-width="2.40"/>
<circle cx="1301.5" cy="955.9" r="2.6" class="f"/>
<circle cx="1327.1" cy="943.2" r="3.25" class="f"/>
<circle cx="1352.8" cy="932.4" r="3.25" class="f"/>
<circle cx="1378.5" cy="923.0" r="3.25" class="f"/>
<circle cx="1404.2" cy="914.5" r="3.25" class="f"/>
<circle cx="1429.8" cy="908.7" r="3.25" class="f"/>
<circle cx="1455.5" cy="906.1" r="3.25" class="f"/>
<circle cx="1481.2" cy="905.8" r="3.25" class="f"/>
<circle cx="1506.9" cy="907.3" r="3.25" class="f"/>
<circle cx="1532.5" cy="910.4" r="2.6" class="f"/>
<circle cx="1558.2" cy="914.5" r="1.75" stroke-width="2.25"/>
<circle cx="1583.9" cy="919.1" r="1.75" stroke-width="2.00"/>
<circle cx="1609.6" cy="923.7" r="1.75" stroke-width="1.75"/>
<circle cx="1635.2" cy="927.9" r="1.9" stroke-width="1.00"/>
<circle cx="1660.9" cy="930.3" r="2.6" class="f"/>
<circle cx="1327.1" cy="937.5" r="1.9" stroke-width="0.90"/>
<circle cx="1352.8" cy="920.7" r="1.9" stroke-width="0.90"/>
<circle cx="1378.5" cy="903.8" r="1.9" stroke-width="0.90"/>
<circle cx="1404.2" cy="887.7" r="1.9" stroke-width="0.90"/>
<circle cx="1429.8" cy="877.0" r="1.9" stroke-width="0.90"/>
<circle cx="1455.5" cy="873.9" r="1.9" stroke-width="0.90"/>
<circle cx="1455.5" cy="861.7" r="1.75" stroke-width="1.90"/>
<circle cx="1481.2" cy="845.6" r="1.75" stroke-width="1.90"/>
<circle cx="1506.9" cy="835.7" r="1.75" stroke-width="1.90"/>
<circle cx="1532.5" cy="828.6" r="1.75" stroke-width="1.90"/>
<circle cx="1558.2" cy="824.9" r="1.75" stroke-width="1.90"/>
<circle cx="1583.9" cy="826.5" r="1.75" stroke-width="1.90"/>
<circle cx="1609.6" cy="831.5" r="1.75" stroke-width="1.90"/>
<circle cx="1635.2" cy="836.7" r="1.75" stroke-width="1.90"/>
<circle cx="1660.9" cy="840.3" r="1.75" stroke-width="1.90"/>
<circle cx="1198.8" cy="1072.2" r="3.25" class="f"/>
<circle cx="1224.4" cy="1071.1" r="2.6" class="f"/>
<circle cx="1250.1" cy="1074.2" r="2.6" class="f"/>
<circle cx="1275.8" cy="1078.3" r="1.75" stroke-width="2.10"/>
<circle cx="1301.5" cy="1082.9" r="1.9" stroke-width="0.90"/>
<circle cx="1327.1" cy="1085.5" r="1.9" stroke-width="0.80"/>
<circle cx="1352.8" cy="1086.0" r="1.9" stroke-width="0.70"/>
<circle cx="1378.5" cy="1082.9" r="1.9" stroke-width="0.60"/>
<circle cx="1404.2" cy="1077.2" r="1.9" stroke-width="0.50"/>
<circle cx="1429.8" cy="1067.6" r="1.9" stroke-width="0.40"/>
<circle cx="1198.8" cy="1082.9" r="3.55" class="f"/>
<circle cx="1224.4" cy="1090.6" r="2.6" class="f"/>
<circle cx="1250.1" cy="1095.6" r="1.75" stroke-width="2.10"/>
<circle cx="1275.8" cy="1110.0" r="1.9" stroke-width="0.40"/>
<circle cx="1301.5" cy="1108.2" r="1.9" stroke-width="0.40"/>
<circle cx="1327.1" cy="1108.2" r="1.9" stroke-width="0.40"/>
<circle cx="1352.8" cy="1108.5" r="1.9" stroke-width="0.40"/>
<circle cx="1378.5" cy="1108.5" r="1.9" stroke-width="0.40"/>
<circle cx="1404.2" cy="1105.9" r="1.9" stroke-width="0.40"/>
<circle cx="1558.2" cy="1065.3" r="1.9" stroke-width="0.90"/>
<circle cx="1583.9" cy="1051.5" r="1.9" stroke-width="0.90"/>
<circle cx="1609.6" cy="1040.1" r="1.9" stroke-width="0.90"/>
<circle cx="1635.2" cy="1033.5" r="1.9" stroke-width="0.90"/>
<circle cx="1660.9" cy="1030.9" r="1.9" stroke-width="0.90"/>
<circle cx="1660.9" cy="1030.6" r="2.6" class="f"/>
<circle cx="1660.9" cy="1035.0" r="2.6" class="f"/>
</g>
</g>
<rect x="450.40" y="288.3" width="1268.08" height="840.00" fill="none" stroke="#000" stroke-width="3.33"/>
<line x1="435.4" y1="1082.3" x2="450" y2="1082.3" stroke="#000" stroke-width="3.33"/>
<text class="tk" x="420.8" y="1098.1" text-anchor="end">−4</text>
<line x1="435.4" y1="988.3" x2="450" y2="988.3" stroke="#000" stroke-width="3.33"/>
<text class="tk" x="420.8" y="1004.1" text-anchor="end">−3</text>
<line x1="435.4" y1="894.3" x2="450" y2="894.3" stroke="#000" stroke-width="3.33"/>
<text class="tk" x="420.8" y="910.1" text-anchor="end">−2</text>
<line x1="435.4" y1="800.3" x2="450" y2="800.3" stroke="#000" stroke-width="3.33"/>
<text class="tk" x="420.8" y="816.1" text-anchor="end">−1</text>
<line x1="435.4" y1="706.3" x2="450" y2="706.3" stroke="#000" stroke-width="3.33"/>
<text class="tk" x="420.8" y="722.1" text-anchor="end">0</text>
<line x1="435.4" y1="612.3" x2="450" y2="612.3" stroke="#000" stroke-width="3.33"/>
<text class="tk" x="420.8" y="628.1" text-anchor="end">1</text>
<line x1="435.4" y1="518.3" x2="450" y2="518.3" stroke="#000" stroke-width="3.33"/>
<text class="tk" x="420.8" y="534.1" text-anchor="end">2</text>
<line x1="435.4" y1="424.3" x2="450" y2="424.3" stroke="#000" stroke-width="3.33"/>
<text class="tk" x="420.8" y="440.1" text-anchor="end">3</text>
<line x1="435.4" y1="330.3" x2="450" y2="330.3" stroke="#000" stroke-width="3.33"/>
<text class="tk" x="420.8" y="346.1" text-anchor="end">4</text>
<line x1="508.0" y1="1128" x2="508.0" y2="1143.4" stroke="#000" stroke-width="3.33"/>
<text class="tk" x="508.0" y="1190" text-anchor="middle">G</text>
<line x1="929.9" y1="1128" x2="929.9" y2="1143.4" stroke="#000" stroke-width="3.33"/>
<text class="tk" x="929.9" y="1190" text-anchor="middle">M</text>
<line x1="1173.1" y1="1128" x2="1173.1" y2="1143.4" stroke="#000" stroke-width="3.33"/>
<text class="tk" x="1173.1" y="1190" text-anchor="middle">K</text>
<line x1="1660.9" y1="1128" x2="1660.9" y2="1143.4" stroke="#000" stroke-width="3.33"/>
<text class="tk" x="1660.9" y="1190" text-anchor="middle">G</text>
<text class="tt" x="1084.1" y="263" text-anchor="middle">Mo 1 pz</text>
</g>
</svg>
</body></html>
